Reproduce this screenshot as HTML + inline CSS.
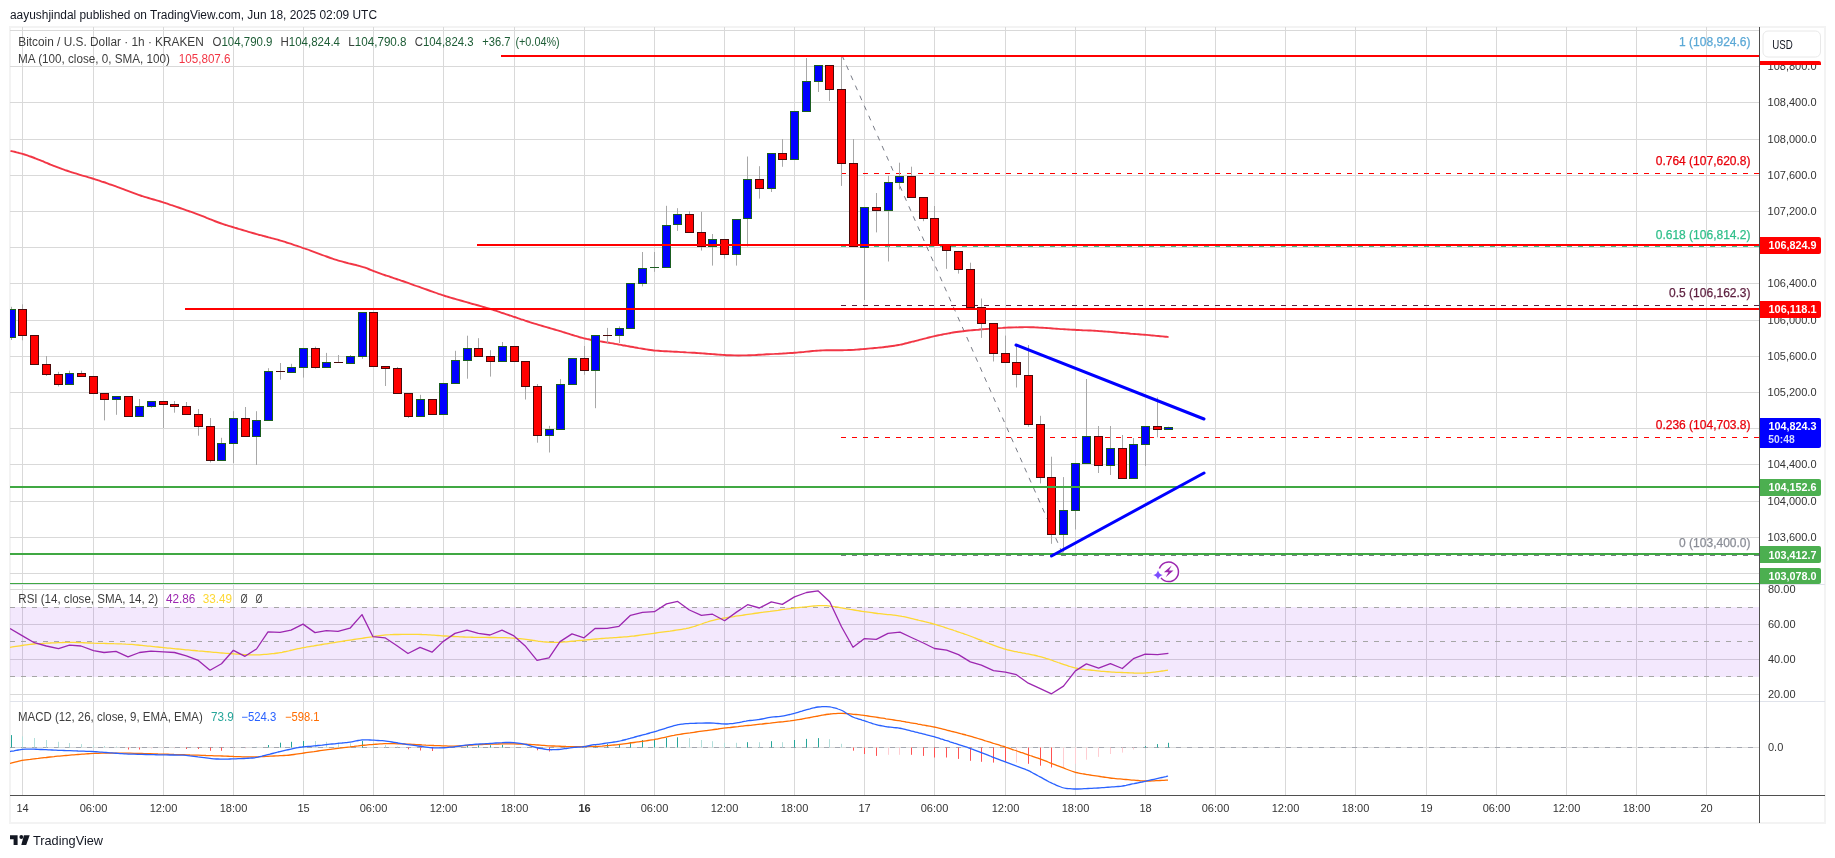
<!DOCTYPE html>
<html><head><meta charset="utf-8"><title>BTCUSD Chart</title>
<style>html,body{margin:0;padding:0;background:#fff;}body{width:1835px;height:858px;overflow:hidden;font-family:"Liberation Sans", sans-serif;}svg{display:block;will-change:transform}</style>
</head><body><svg width="1835" height="858" viewBox="0 0 1835 858" font-family='"Liberation Sans", sans-serif'><rect x="10" y="27" width="1815" height="796" fill="#ffffff" stroke="#f3f3f3" stroke-width="2"/><defs><clipPath id="cm"><rect x="10" y="27" width="1749" height="557"/></clipPath><clipPath id="cr"><rect x="10" y="585" width="1749" height="116"/></clipPath><clipPath id="cd"><rect x="10" y="702" width="1749" height="93"/></clipPath></defs><path d="M22.5 27V795 M93.5 27V795 M163.5 27V795 M233.5 27V795 M303.5 27V795 M373.5 27V795 M443.5 27V795 M514.5 27V795 M584.5 27V795 M654.5 27V795 M724.5 27V795 M794.5 27V795 M864.5 27V795 M934.5 27V795 M1005.5 27V795 M1075.5 27V795 M1145.5 27V795 M1215.5 27V795 M1285.5 27V795 M1355.5 27V795 M1426.5 27V795 M1496.5 27V795 M1566.5 27V795 M1636.5 27V795 M1706.5 27V795 M10 30.5H1759 M10 66.5H1759 M10 102.5H1759 M10 139.5H1759 M10 175.5H1759 M10 211.5H1759 M10 247.5H1759 M10 283.5H1759 M10 320.5H1759 M10 356.5H1759 M10 392.5H1759 M10 428.5H1759 M10 464.5H1759 M10 501.5H1759 M10 537.5H1759 M10 573.5H1759 M10 589.5H1759 M10 624.5H1759 M10 659.5H1759 M10 694.5H1759" stroke="#d9d9d9" stroke-width="1" fill="none"/><path d="M10 584.5H1825 M10 701.5H1825" stroke="#e0e3eb" stroke-width="1"/><g clip-path="url(#cr)"><rect x="10" y="607" width="1749" height="70" fill="#8719eb" fill-opacity="0.1"/><path d="M10 607.5H1759 M10 641.5H1759 M10 676.5H1759" stroke="#a6a6a6" stroke-width="1" stroke-dasharray="5 6" fill="none"/><path d="M10.0 647.3C10.7 647.2 12.7 646.9 14.0 646.7C15.3 646.5 16.7 646.3 18.0 646.1C19.3 645.9 20.7 645.7 22.0 645.5C23.3 645.3 24.7 645.1 26.0 644.9C27.3 644.7 28.7 644.6 30.0 644.4C31.3 644.2 32.7 644.1 34.0 644.0C35.3 643.8 36.7 643.7 38.0 643.6C39.3 643.5 40.7 643.4 42.0 643.4C43.3 643.3 44.7 643.2 46.0 643.2C47.3 643.1 48.7 643.0 50.0 643.0C51.3 642.9 52.7 642.9 54.0 642.8C55.3 642.8 56.7 642.7 58.0 642.6C59.3 642.6 60.7 642.5 62.0 642.5C63.3 642.4 64.7 642.4 66.0 642.4C67.3 642.3 68.7 642.3 70.0 642.3C71.3 642.3 72.7 642.3 74.0 642.4C75.3 642.4 76.7 642.4 78.0 642.5C79.3 642.5 80.7 642.6 82.0 642.7C83.3 642.7 84.7 642.8 86.0 642.8C87.3 642.9 88.7 643.0 90.0 643.0C91.3 643.1 92.7 643.1 94.0 643.2C95.3 643.2 96.7 643.2 98.0 643.3C99.3 643.3 100.7 643.4 102.0 643.4C103.3 643.4 104.7 643.5 106.0 643.5C107.3 643.5 108.7 643.6 110.0 643.6C111.3 643.6 112.7 643.6 114.0 643.7C115.3 643.7 116.7 643.7 118.0 643.8C119.3 643.8 120.7 643.8 122.0 643.9C123.3 643.9 124.7 644.0 126.0 644.1C127.3 644.1 128.7 644.2 130.0 644.3C131.3 644.4 132.7 644.5 134.0 644.6C135.3 644.8 136.7 644.9 138.0 645.0C139.3 645.2 140.7 645.3 142.0 645.4C143.3 645.6 144.7 645.7 146.0 645.8C147.3 646.0 148.7 646.1 150.0 646.2C151.3 646.4 152.7 646.5 154.0 646.6C155.3 646.8 156.7 646.9 158.0 647.0C159.3 647.2 160.7 647.3 162.0 647.4C163.3 647.6 164.7 647.7 166.0 647.8C167.3 648.0 168.7 648.1 170.0 648.2C171.3 648.4 172.7 648.5 174.0 648.6C175.3 648.8 176.7 648.9 178.0 649.0C179.3 649.1 180.7 649.3 182.0 649.4C183.3 649.5 184.7 649.7 186.0 649.8C187.3 649.9 188.7 650.0 190.0 650.1C191.3 650.3 192.7 650.4 194.0 650.5C195.3 650.6 196.7 650.7 198.0 650.9C199.3 651.0 200.7 651.1 202.0 651.2C203.3 651.3 204.7 651.5 206.0 651.6C207.3 651.7 208.7 651.8 210.0 651.9C211.3 652.1 212.7 652.2 214.0 652.3C215.3 652.4 216.7 652.5 218.0 652.6C219.3 652.7 220.7 652.9 222.0 653.0C223.3 653.1 224.7 653.2 226.0 653.3C227.3 653.4 228.7 653.5 230.0 653.6C231.3 653.7 232.7 653.8 234.0 653.9C235.3 654.0 236.7 654.1 238.0 654.2C239.3 654.3 240.7 654.4 242.0 654.4C243.3 654.5 244.7 654.6 246.0 654.7C247.3 654.7 248.7 654.8 250.0 654.8C251.3 654.9 252.7 654.9 254.0 654.9C255.3 654.9 256.7 654.9 258.0 654.8C259.3 654.8 260.7 654.7 262.0 654.6C263.3 654.5 264.7 654.4 266.0 654.3C267.3 654.2 268.7 654.1 270.0 653.9C271.3 653.8 272.7 653.6 274.0 653.5C275.3 653.3 276.7 653.2 278.0 653.0C279.3 652.8 280.7 652.5 282.0 652.3C283.3 652.0 284.7 651.7 286.0 651.5C287.3 651.2 288.7 650.9 290.0 650.5C291.3 650.2 292.7 649.9 294.0 649.6C295.3 649.3 296.7 649.0 298.0 648.7C299.3 648.4 300.7 648.2 302.0 647.9C303.3 647.6 304.7 647.4 306.0 647.2C307.3 646.9 308.7 646.7 310.0 646.5C311.3 646.3 312.7 646.0 314.0 645.8C315.3 645.6 316.7 645.4 318.0 645.2C319.3 645.0 320.7 644.7 322.0 644.5C323.3 644.3 324.7 644.1 326.0 643.9C327.3 643.7 328.7 643.4 330.0 643.2C331.3 643.0 332.7 642.8 334.0 642.6C335.3 642.4 336.7 642.2 338.0 641.9C339.3 641.7 340.7 641.5 342.0 641.3C343.3 641.1 344.7 640.9 346.0 640.7C347.3 640.5 348.7 640.3 350.0 640.1C351.3 639.9 352.7 639.7 354.0 639.5C355.3 639.3 356.7 639.1 358.0 638.9C359.3 638.7 360.7 638.5 362.0 638.3C363.3 638.1 364.7 637.9 366.0 637.7C367.3 637.5 368.7 637.3 370.0 637.1C371.3 636.9 372.7 636.7 374.0 636.5C375.3 636.3 376.7 636.1 378.0 635.9C379.3 635.7 380.7 635.5 382.0 635.3C383.3 635.2 384.7 635.0 386.0 634.9C387.3 634.8 388.7 634.7 390.0 634.7C391.3 634.6 392.7 634.6 394.0 634.5C395.3 634.5 396.7 634.5 398.0 634.5C399.3 634.4 400.7 634.4 402.0 634.4C403.3 634.4 404.7 634.4 406.0 634.4C407.3 634.3 408.7 634.3 410.0 634.3C411.3 634.3 412.7 634.3 414.0 634.3C415.3 634.3 416.7 634.3 418.0 634.4C419.3 634.4 420.7 634.4 422.0 634.5C423.3 634.5 424.7 634.6 426.0 634.7C427.3 634.8 428.7 634.9 430.0 634.9C431.3 635.0 432.7 635.1 434.0 635.2C435.3 635.3 436.7 635.4 438.0 635.5C439.3 635.6 440.7 635.7 442.0 635.8C443.3 635.9 444.7 636.0 446.0 636.0C447.3 636.1 448.7 636.2 450.0 636.3C451.3 636.3 452.7 636.4 454.0 636.5C455.3 636.6 456.7 636.6 458.0 636.7C459.3 636.8 460.7 636.8 462.0 636.9C463.3 637.0 464.7 637.0 466.0 637.1C467.3 637.1 468.7 637.2 470.0 637.2C471.3 637.2 472.7 637.3 474.0 637.3C475.3 637.3 476.7 637.3 478.0 637.3C479.3 637.4 480.7 637.4 482.0 637.4C483.3 637.4 484.7 637.4 486.0 637.4C487.3 637.5 488.7 637.5 490.0 637.5C491.3 637.5 492.7 637.5 494.0 637.5C495.3 637.6 496.7 637.6 498.0 637.6C499.3 637.6 500.7 637.6 502.0 637.7C503.3 637.7 504.7 637.7 506.0 637.7C507.3 637.8 508.7 637.8 510.0 637.9C511.3 637.9 512.7 638.0 514.0 638.1C515.3 638.2 516.7 638.3 518.0 638.5C519.3 638.6 520.7 638.8 522.0 638.9C523.3 639.1 524.7 639.3 526.0 639.4C527.3 639.6 528.7 639.8 530.0 640.0C531.3 640.2 532.7 640.3 534.0 640.5C535.3 640.7 536.7 640.9 538.0 641.1C539.3 641.2 540.7 641.4 542.0 641.6C543.3 641.7 544.7 641.9 546.0 642.0C547.3 642.1 548.7 642.2 550.0 642.3C551.3 642.4 552.7 642.4 554.0 642.4C555.3 642.4 556.7 642.4 558.0 642.3C559.3 642.3 560.7 642.2 562.0 642.1C563.3 642.0 564.7 641.9 566.0 641.8C567.3 641.7 568.7 641.6 570.0 641.4C571.3 641.3 572.7 641.2 574.0 641.1C575.3 640.9 576.7 640.8 578.0 640.7C579.3 640.6 580.7 640.4 582.0 640.3C583.3 640.2 584.7 640.1 586.0 639.9C587.3 639.8 588.7 639.7 590.0 639.6C591.3 639.4 592.7 639.3 594.0 639.2C595.3 639.1 596.7 638.9 598.0 638.8C599.3 638.7 600.7 638.6 602.0 638.5C603.3 638.4 604.7 638.3 606.0 638.2C607.3 638.1 608.7 638.0 610.0 637.9C611.3 637.8 612.7 637.8 614.0 637.7C615.3 637.6 616.7 637.5 618.0 637.4C619.3 637.3 620.7 637.2 622.0 637.1C623.3 637.0 624.7 636.9 626.0 636.8C627.3 636.7 628.7 636.6 630.0 636.4C631.3 636.3 632.7 636.1 634.0 636.0C635.3 635.8 636.7 635.7 638.0 635.5C639.3 635.3 640.7 635.1 642.0 634.9C643.3 634.8 644.7 634.6 646.0 634.4C647.3 634.2 648.7 634.0 650.0 633.8C651.3 633.7 652.7 633.5 654.0 633.3C655.3 633.1 656.7 632.9 658.0 632.7C659.3 632.6 660.7 632.4 662.0 632.2C663.3 632.0 664.7 631.8 666.0 631.6C667.3 631.4 668.7 631.2 670.0 631.1C671.3 630.9 672.7 630.7 674.0 630.5C675.3 630.3 676.7 630.1 678.0 629.9C679.3 629.7 680.7 629.5 682.0 629.3C683.3 629.1 684.7 628.8 686.0 628.6C687.3 628.3 688.7 628.0 690.0 627.6C691.3 627.3 692.7 626.9 694.0 626.5C695.3 626.1 696.7 625.6 698.0 625.2C699.3 624.7 700.7 624.2 702.0 623.8C703.3 623.3 704.7 622.8 706.0 622.4C707.3 622.0 708.7 621.5 710.0 621.1C711.3 620.8 712.7 620.4 714.0 620.1C715.3 619.8 716.7 619.5 718.0 619.2C719.3 618.9 720.7 618.7 722.0 618.5C723.3 618.2 724.7 618.0 726.0 617.8C727.3 617.6 728.7 617.4 730.0 617.2C731.3 617.0 732.7 616.8 734.0 616.6C735.3 616.3 736.7 616.1 738.0 615.9C739.3 615.7 740.7 615.5 742.0 615.3C743.3 615.1 744.7 614.9 746.0 614.7C747.3 614.5 748.7 614.3 750.0 614.1C751.3 613.9 752.7 613.7 754.0 613.5C755.3 613.4 756.7 613.2 758.0 613.0C759.3 612.8 760.7 612.6 762.0 612.4C763.3 612.3 764.7 612.1 766.0 611.9C767.3 611.7 768.7 611.5 770.0 611.4C771.3 611.2 772.7 611.0 774.0 610.8C775.3 610.6 776.7 610.4 778.0 610.3C779.3 610.1 780.7 609.9 782.0 609.7C783.3 609.5 784.7 609.3 786.0 609.2C787.3 609.0 788.7 608.8 790.0 608.6C791.3 608.5 792.7 608.3 794.0 608.1C795.3 608.0 796.7 607.8 798.0 607.6C799.3 607.5 800.7 607.3 802.0 607.2C803.3 607.0 804.7 606.9 806.0 606.8C807.3 606.6 808.7 606.5 810.0 606.3C811.3 606.2 812.7 606.1 814.0 606.0C815.3 605.9 816.7 605.8 818.0 605.7C819.3 605.7 820.7 605.6 822.0 605.6C823.3 605.6 824.7 605.7 826.0 605.7C827.3 605.8 828.7 605.9 830.0 606.1C831.3 606.2 832.7 606.4 834.0 606.6C835.3 606.8 836.7 607.0 838.0 607.2C839.3 607.4 840.7 607.7 842.0 607.9C843.3 608.2 844.7 608.4 846.0 608.7C847.3 608.9 848.7 609.1 850.0 609.4C851.3 609.6 852.7 609.8 854.0 610.0C855.3 610.3 856.7 610.5 858.0 610.7C859.3 610.9 860.7 611.1 862.0 611.3C863.3 611.5 864.7 611.7 866.0 611.9C867.3 612.1 868.7 612.3 870.0 612.4C871.3 612.6 872.7 612.8 874.0 613.0C875.3 613.2 876.7 613.3 878.0 613.5C879.3 613.6 880.7 613.8 882.0 613.9C883.3 614.1 884.7 614.2 886.0 614.3C887.3 614.5 888.7 614.6 890.0 614.7C891.3 614.9 892.7 615.0 894.0 615.2C895.3 615.4 896.7 615.5 898.0 615.7C899.3 615.9 900.7 616.1 902.0 616.4C903.3 616.6 904.7 616.9 906.0 617.2C907.3 617.5 908.7 617.8 910.0 618.1C911.3 618.4 912.7 618.8 914.0 619.1C915.3 619.4 916.7 619.7 918.0 620.0C919.3 620.4 920.7 620.7 922.0 621.0C923.3 621.3 924.7 621.6 926.0 622.0C927.3 622.3 928.7 622.6 930.0 623.0C931.3 623.3 932.7 623.7 934.0 624.1C935.3 624.5 936.7 624.9 938.0 625.3C939.3 625.7 940.7 626.1 942.0 626.5C943.3 626.9 944.7 627.4 946.0 627.8C947.3 628.3 948.7 628.7 950.0 629.2C951.3 629.6 952.7 630.0 954.0 630.5C955.3 630.9 956.7 631.4 958.0 631.8C959.3 632.3 960.7 632.7 962.0 633.2C963.3 633.6 964.7 634.1 966.0 634.5C967.3 635.0 968.7 635.5 970.0 636.0C971.3 636.5 972.7 637.0 974.0 637.5C975.3 638.0 976.7 638.5 978.0 639.1C979.3 639.6 980.7 640.1 982.0 640.7C983.3 641.2 984.7 641.7 986.0 642.3C987.3 642.8 988.7 643.3 990.0 643.8C991.3 644.4 992.7 644.9 994.0 645.4C995.3 645.9 996.7 646.4 998.0 646.9C999.3 647.4 1000.7 647.8 1002.0 648.2C1003.3 648.7 1004.7 649.1 1006.0 649.4C1007.3 649.8 1008.7 650.1 1010.0 650.4C1011.3 650.7 1012.7 651.0 1014.0 651.3C1015.3 651.6 1016.7 651.8 1018.0 652.1C1019.3 652.3 1020.7 652.6 1022.0 652.8C1023.3 653.1 1024.7 653.3 1026.0 653.6C1027.3 653.8 1028.7 654.1 1030.0 654.3C1031.3 654.6 1032.7 654.9 1034.0 655.1C1035.3 655.4 1036.7 655.7 1038.0 656.1C1039.3 656.4 1040.7 656.8 1042.0 657.1C1043.3 657.5 1044.7 657.9 1046.0 658.4C1047.3 658.8 1048.7 659.2 1050.0 659.7C1051.3 660.1 1052.7 660.6 1054.0 661.1C1055.3 661.5 1056.7 662.0 1058.0 662.5C1059.3 662.9 1060.7 663.4 1062.0 663.8C1063.3 664.3 1064.7 664.8 1066.0 665.2C1067.3 665.6 1068.7 666.1 1070.0 666.5C1071.3 666.9 1072.7 667.3 1074.0 667.6C1075.3 667.9 1076.7 668.2 1078.0 668.5C1079.3 668.7 1080.7 668.9 1082.0 669.1C1083.3 669.3 1084.7 669.4 1086.0 669.6C1087.3 669.7 1088.7 669.9 1090.0 670.0C1091.3 670.2 1092.7 670.3 1094.0 670.4C1095.3 670.6 1096.7 670.7 1098.0 670.8C1099.3 671.0 1100.7 671.1 1102.0 671.3C1103.3 671.4 1104.7 671.5 1106.0 671.6C1107.3 671.7 1108.7 671.8 1110.0 671.9C1111.3 672.0 1112.7 672.1 1114.0 672.2C1115.3 672.3 1116.7 672.3 1118.0 672.4C1119.3 672.4 1120.7 672.5 1122.0 672.5C1123.3 672.6 1124.7 672.6 1126.0 672.7C1127.3 672.7 1128.7 672.8 1130.0 672.8C1131.3 672.9 1132.7 672.9 1134.0 673.0C1135.3 673.0 1136.7 673.1 1138.0 673.1C1139.3 673.1 1140.7 673.1 1142.0 673.1C1143.3 673.1 1144.7 673.0 1146.0 672.9C1147.3 672.8 1148.7 672.7 1150.0 672.6C1151.3 672.5 1152.7 672.3 1154.0 672.1C1155.3 671.9 1156.7 671.8 1158.0 671.6C1159.3 671.4 1160.7 671.2 1162.0 671.0C1163.3 670.8 1165.0 670.6 1166.0 670.4C1167.0 670.3 1167.7 670.2 1168.0 670.2" fill="none" stroke="#fdd835" stroke-width="1.3" stroke-linejoin="round"/><polyline points="10.0,628.5 22.5,635.9 34.3,642.7 46.4,646.0 58.5,648.6 69.5,645.2 81.0,646.0 93.5,650.6 104.0,652.5 116.0,651.4 128.0,656.8 139.5,652.5 151.0,651.1 163.5,651.9 174.5,652.5 186.4,655.8 198.3,660.4 210.0,670.2 221.5,663.7 233.4,650.3 245.0,656.3 256.5,649.0 268.0,631.8 280.0,632.3 291.0,630.1 303.0,624.1 315.0,632.6 326.4,630.6 338.0,631.3 350.0,628.2 362.0,614.6 373.0,636.7 385.0,637.8 397.0,645.7 408.0,653.5 420.0,647.3 432.0,652.2 443.0,641.6 455.0,633.4 467.0,630.1 478.4,633.4 490.0,635.0 502.0,630.1 514.0,635.9 525.0,645.7 537.0,660.4 549.0,657.9 560.0,641.6 572.0,633.9 584.0,637.8 595.0,628.5 607.0,628.4 619.0,626.3 630.5,615.3 642.5,612.4 654.4,611.7 666.5,603.9 677.7,601.4 689.4,610.0 701.4,615.3 712.5,614.2 724.6,620.7 736.5,612.1 747.6,604.7 759.4,608.0 771.3,601.8 782.3,604.4 794.5,596.9 806.5,592.5 818.0,590.8 829.7,601.8 841.5,626.8 853.0,647.2 864.5,638.6 876.3,639.4 888.0,633.3 900.0,632.2 911.4,637.5 923.4,643.0 934.5,648.5 946.6,650.2 958.5,654.6 970.3,661.9 981.4,665.2 993.5,670.6 1005.4,672.1 1016.4,674.7 1028.3,683.2 1040.3,688.6 1051.5,693.8 1063.5,686.1 1075.4,670.9 1086.4,663.9 1098.6,668.1 1110.4,663.6 1122.3,668.5 1133.4,658.7 1145.2,654.2 1157.5,654.6 1168.4,653.4" fill="none" stroke="#9c27b0" stroke-width="1.3" stroke-linejoin="round"/></g><g clip-path="url(#cd)"><path d="M10 747.5H1759" stroke="#dcdcdc" stroke-width="1" fill="none"/><path d="M10 747.5H1759" stroke="#a3a6af" stroke-width="1" stroke-dasharray="5 6" fill="none"/><path d="M11.5 747.5V735.1 M268.5 747.5V745.0 M280.5 747.5V742.7 M291.5 747.5V741.8 M303.5 747.5V741.0 M362.5 747.5V740.9 M467.5 747.5V745.5 M478.5 747.5V745.3 M490.5 747.5V745.3 M502.5 747.5V744.8 M595.5 747.5V745.5 M607.5 747.5V743.8 M619.5 747.5V744.1 M630.5 747.5V742.2 M642.5 747.5V740.0 M654.5 747.5V739.2 M666.5 747.5V737.9 M677.5 747.5V737.3 M747.5 747.5V742.2 M771.5 747.5V741.2 M794.5 747.5V740.0 M806.5 747.5V738.9 M818.5 747.5V738.1 M1145.5 747.5V746.1 M1157.5 747.5V744.1 M1168.5 747.5V742.8" stroke="#26a69a" stroke-width="1" fill="none"/><path d="M22.5 747.5V736.4 M34.5 747.5V738.0 M46.5 747.5V740.0 M58.5 747.5V741.8 M69.5 747.5V743.0 M81.5 747.5V744.1 M93.5 747.5V745.4 M104.5 747.5V746.0 M116.5 747.5V746.5 M256.5 747.5V746.8 M315.5 747.5V741.0 M326.5 747.5V741.8 M338.5 747.5V742.5 M350.5 747.5V743.3 M373.5 747.5V743.0 M385.5 747.5V745.0 M397.5 747.5V746.5 M514.5 747.5V746.5 M525.5 747.5V747.0 M572.5 747.5V746.8 M584.5 747.5V746.8 M689.5 747.5V738.1 M701.5 747.5V740.0 M712.5 747.5V741.2 M724.5 747.5V742.8 M736.5 747.5V742.8 M759.5 747.5V742.2 M782.5 747.5V742.2 M829.5 747.5V739.2 M841.5 747.5V743.8" stroke="#b2dfdb" stroke-width="1" fill="none"/><path d="M128.5 747.5V749.5 M139.5 747.5V749.5 M186.5 747.5V749.0 M198.5 747.5V749.0 M210.5 747.5V750.8 M221.5 747.5V750.8 M408.5 747.5V749.3 M420.5 747.5V750.5 M432.5 747.5V751.0 M537.5 747.5V750.3 M549.5 747.5V751.5 M853.5 747.5V750.7 M864.5 747.5V754.0 M876.5 747.5V755.9 M911.5 747.5V754.8 M923.5 747.5V755.9 M934.5 747.5V757.5 M946.5 747.5V757.5 M958.5 747.5V758.9 M970.5 747.5V760.8 M981.5 747.5V761.8 M993.5 747.5V762.6 M1005.5 747.5V762.1 M1028.5 747.5V763.8 M1040.5 747.5V765.7 M1051.5 747.5V767.5" stroke="#ff5252" stroke-width="1" fill="none"/><path d="M151.5 747.5V748.5 M163.5 747.5V748.3 M174.5 747.5V748.3 M233.5 747.5V748.5 M245.5 747.5V748.3 M443.5 747.5V748.5 M455.5 747.5V748.2 M560.5 747.5V748.5 M888.5 747.5V754.8 M899.5 747.5V754.8 M1016.5 747.5V762.6 M1063.5 747.5V767.5 M1075.5 747.5V763.8 M1086.5 747.5V759.7 M1098.5 747.5V756.9 M1110.5 747.5V754.0 M1122.5 747.5V752.6 M1133.5 747.5V749.5" stroke="#ffcdd2" stroke-width="1" fill="none"/><path d="M10.0 763.4C10.7 763.2 12.7 762.7 14.0 762.3C15.3 762.0 16.7 761.6 18.0 761.3C19.3 761.0 20.7 760.7 22.0 760.4C23.3 760.2 24.7 760.0 26.0 759.8C27.3 759.6 28.7 759.4 30.0 759.3C31.3 759.1 32.7 759.0 34.0 758.8C35.3 758.7 36.7 758.5 38.0 758.4C39.3 758.2 40.7 758.1 42.0 757.9C43.3 757.8 44.7 757.6 46.0 757.5C47.3 757.3 48.7 757.2 50.0 757.0C51.3 756.9 52.7 756.7 54.0 756.6C55.3 756.4 56.7 756.3 58.0 756.2C59.3 756.0 60.7 755.9 62.0 755.8C63.3 755.7 64.7 755.6 66.0 755.5C67.3 755.4 68.7 755.2 70.0 755.1C71.3 755.0 72.7 754.9 74.0 754.8C75.3 754.7 76.7 754.6 78.0 754.5C79.3 754.4 80.7 754.3 82.0 754.2C83.3 754.1 84.7 754.0 86.0 753.9C87.3 753.8 88.7 753.7 90.0 753.6C91.3 753.5 92.7 753.4 94.0 753.4C95.3 753.3 96.7 753.3 98.0 753.3C99.3 753.3 100.7 753.3 102.0 753.2C103.3 753.2 104.7 753.2 106.0 753.2C107.3 753.2 108.7 753.2 110.0 753.2C111.3 753.2 112.7 753.2 114.0 753.2C115.3 753.2 116.7 753.2 118.0 753.2C119.3 753.2 120.7 753.1 122.0 753.1C123.3 753.1 124.7 753.1 126.0 753.1C127.3 753.1 128.7 753.2 130.0 753.2C131.3 753.2 132.7 753.2 134.0 753.3C135.3 753.3 136.7 753.3 138.0 753.4C139.3 753.4 140.7 753.5 142.0 753.5C143.3 753.5 144.7 753.6 146.0 753.6C147.3 753.7 148.7 753.7 150.0 753.7C151.3 753.8 152.7 753.8 154.0 753.8C155.3 753.9 156.7 753.9 158.0 754.0C159.3 754.0 160.7 754.0 162.0 754.1C163.3 754.1 164.7 754.2 166.0 754.2C167.3 754.2 168.7 754.3 170.0 754.3C171.3 754.4 172.7 754.4 174.0 754.5C175.3 754.5 176.7 754.5 178.0 754.6C179.3 754.6 180.7 754.7 182.0 754.7C183.3 754.7 184.7 754.8 186.0 754.8C187.3 754.9 188.7 754.9 190.0 755.0C191.3 755.0 192.7 755.0 194.0 755.1C195.3 755.1 196.7 755.2 198.0 755.2C199.3 755.3 200.7 755.3 202.0 755.3C203.3 755.4 204.7 755.4 206.0 755.5C207.3 755.5 208.7 755.6 210.0 755.6C211.3 755.7 212.7 755.7 214.0 755.8C215.3 755.8 216.7 755.8 218.0 755.9C219.3 755.9 220.7 756.0 222.0 756.0C223.3 756.1 224.7 756.1 226.0 756.2C227.3 756.2 228.7 756.3 230.0 756.3C231.3 756.4 232.7 756.4 234.0 756.5C235.3 756.5 236.7 756.6 238.0 756.6C239.3 756.7 240.7 756.7 242.0 756.8C243.3 756.8 244.7 756.8 246.0 756.9C247.3 756.9 248.7 756.9 250.0 756.9C251.3 756.9 252.7 756.9 254.0 756.9C255.3 756.8 256.7 756.8 258.0 756.8C259.3 756.7 260.7 756.7 262.0 756.6C263.3 756.5 264.7 756.5 266.0 756.4C267.3 756.3 268.7 756.3 270.0 756.2C271.3 756.1 272.7 756.1 274.0 756.0C275.3 755.9 276.7 755.9 278.0 755.8C279.3 755.7 280.7 755.7 282.0 755.6C283.3 755.5 284.7 755.5 286.0 755.4C287.3 755.3 288.7 755.2 290.0 755.0C291.3 754.9 292.7 754.7 294.0 754.5C295.3 754.3 296.7 754.1 298.0 753.9C299.3 753.7 300.7 753.5 302.0 753.3C303.3 753.1 304.7 752.9 306.0 752.7C307.3 752.5 308.7 752.3 310.0 752.1C311.3 751.9 312.7 751.7 314.0 751.6C315.3 751.4 316.7 751.2 318.0 751.0C319.3 750.8 320.7 750.6 322.0 750.4C323.3 750.2 324.7 750.0 326.0 749.8C327.3 749.7 328.7 749.5 330.0 749.3C331.3 749.1 332.7 749.0 334.0 748.8C335.3 748.7 336.7 748.5 338.0 748.3C339.3 748.2 340.7 748.0 342.0 747.8C343.3 747.7 344.7 747.5 346.0 747.3C347.3 747.2 348.7 747.0 350.0 746.9C351.3 746.7 352.7 746.5 354.0 746.4C355.3 746.2 356.7 746.0 358.0 745.9C359.3 745.7 360.7 745.6 362.0 745.4C363.3 745.3 364.7 745.2 366.0 745.1C367.3 744.9 368.7 744.8 370.0 744.7C371.3 744.6 372.7 744.5 374.0 744.4C375.3 744.3 376.7 744.2 378.0 744.1C379.3 744.0 380.7 743.9 382.0 743.8C383.3 743.7 384.7 743.7 386.0 743.6C387.3 743.6 388.7 743.6 390.0 743.7C391.3 743.7 392.7 743.7 394.0 743.7C395.3 743.8 396.7 743.8 398.0 743.8C399.3 743.9 400.7 743.9 402.0 743.9C403.3 744.0 404.7 744.0 406.0 744.1C407.3 744.1 408.7 744.2 410.0 744.2C411.3 744.3 412.7 744.4 414.0 744.4C415.3 744.5 416.7 744.6 418.0 744.6C419.3 744.7 420.7 744.8 422.0 744.9C423.3 744.9 424.7 745.0 426.0 745.1C427.3 745.1 428.7 745.2 430.0 745.3C431.3 745.3 432.7 745.4 434.0 745.5C435.3 745.5 436.7 745.6 438.0 745.6C439.3 745.7 440.7 745.7 442.0 745.8C443.3 745.8 444.7 745.9 446.0 745.9C447.3 746.0 448.7 746.1 450.0 746.1C451.3 746.1 452.7 746.1 454.0 746.1C455.3 746.1 456.7 746.1 458.0 746.0C459.3 746.0 460.7 745.9 462.0 745.8C463.3 745.7 464.7 745.6 466.0 745.5C467.3 745.4 468.7 745.3 470.0 745.2C471.3 745.1 472.7 745.0 474.0 744.9C475.3 744.8 476.7 744.7 478.0 744.7C479.3 744.6 480.7 744.5 482.0 744.5C483.3 744.4 484.7 744.4 486.0 744.3C487.3 744.3 488.7 744.3 490.0 744.2C491.3 744.2 492.7 744.1 494.0 744.1C495.3 744.0 496.7 744.0 498.0 744.0C499.3 743.9 500.7 743.9 502.0 743.9C503.3 743.9 504.7 743.9 506.0 743.9C507.3 743.9 508.7 743.9 510.0 743.9C511.3 743.9 512.7 743.9 514.0 743.9C515.3 744.0 516.7 744.0 518.0 744.0C519.3 744.0 520.7 744.0 522.0 744.1C523.3 744.1 524.7 744.2 526.0 744.2C527.3 744.3 528.7 744.4 530.0 744.4C531.3 744.5 532.7 744.6 534.0 744.7C535.3 744.8 536.7 744.9 538.0 745.0C539.3 745.1 540.7 745.2 542.0 745.3C543.3 745.4 544.7 745.5 546.0 745.6C547.3 745.7 548.7 745.8 550.0 745.8C551.3 745.9 552.7 746.0 554.0 746.0C555.3 746.1 556.7 746.1 558.0 746.2C559.3 746.2 560.7 746.3 562.0 746.3C563.3 746.4 564.7 746.4 566.0 746.5C567.3 746.5 568.7 746.6 570.0 746.6C571.3 746.6 572.7 746.6 574.0 746.6C575.3 746.6 576.7 746.6 578.0 746.6C579.3 746.6 580.7 746.6 582.0 746.6C583.3 746.5 584.7 746.5 586.0 746.5C587.3 746.5 588.7 746.5 590.0 746.4C591.3 746.4 592.7 746.4 594.0 746.4C595.3 746.3 596.7 746.3 598.0 746.3C599.3 746.2 600.7 746.1 602.0 746.1C603.3 746.0 604.7 745.9 606.0 745.7C607.3 745.6 608.7 745.5 610.0 745.4C611.3 745.3 612.7 745.1 614.0 745.0C615.3 744.9 616.7 744.7 618.0 744.6C619.3 744.5 620.7 744.3 622.0 744.1C623.3 744.0 624.7 743.8 626.0 743.6C627.3 743.4 628.7 743.2 630.0 743.0C631.3 742.9 632.7 742.7 634.0 742.5C635.3 742.3 636.7 742.1 638.0 741.9C639.3 741.7 640.7 741.6 642.0 741.4C643.3 741.2 644.7 741.0 646.0 740.8C647.3 740.6 648.7 740.4 650.0 740.2C651.3 740.0 652.7 739.8 654.0 739.6C655.3 739.3 656.7 739.1 658.0 738.8C659.3 738.5 660.7 738.2 662.0 737.9C663.3 737.7 664.7 737.4 666.0 737.1C667.3 736.8 668.7 736.5 670.0 736.2C671.3 735.9 672.7 735.6 674.0 735.4C675.3 735.1 676.7 734.8 678.0 734.6C679.3 734.4 680.7 734.2 682.0 734.0C683.3 733.8 684.7 733.6 686.0 733.4C687.3 733.2 688.7 733.0 690.0 732.9C691.3 732.7 692.7 732.5 694.0 732.3C695.3 732.1 696.7 731.9 698.0 731.7C699.3 731.6 700.7 731.4 702.0 731.2C703.3 731.0 704.7 730.8 706.0 730.6C707.3 730.4 708.7 730.3 710.0 730.1C711.3 729.9 712.7 729.7 714.0 729.5C715.3 729.3 716.7 729.1 718.0 729.0C719.3 728.8 720.7 728.6 722.0 728.4C723.3 728.3 724.7 728.1 726.0 727.9C727.3 727.8 728.7 727.6 730.0 727.5C731.3 727.3 732.7 727.2 734.0 727.0C735.3 726.9 736.7 726.7 738.0 726.6C739.3 726.4 740.7 726.3 742.0 726.2C743.3 726.0 744.7 725.9 746.0 725.7C747.3 725.6 748.7 725.4 750.0 725.3C751.3 725.1 752.7 725.0 754.0 724.8C755.3 724.7 756.7 724.5 758.0 724.4C759.3 724.3 760.7 724.1 762.0 724.0C763.3 723.8 764.7 723.7 766.0 723.5C767.3 723.4 768.7 723.2 770.0 723.1C771.3 722.9 772.7 722.8 774.0 722.6C775.3 722.5 776.7 722.4 778.0 722.2C779.3 722.1 780.7 721.9 782.0 721.8C783.3 721.6 784.7 721.5 786.0 721.3C787.3 721.2 788.7 721.0 790.0 720.9C791.3 720.7 792.7 720.5 794.0 720.3C795.3 720.2 796.7 719.9 798.0 719.7C799.3 719.5 800.7 719.2 802.0 719.0C803.3 718.7 804.7 718.5 806.0 718.2C807.3 718.0 808.7 717.7 810.0 717.5C811.3 717.2 812.7 717.0 814.0 716.7C815.3 716.5 816.7 716.2 818.0 716.0C819.3 715.7 820.7 715.5 822.0 715.2C823.3 715.0 824.7 714.7 826.0 714.5C827.3 714.3 828.7 714.1 830.0 714.0C831.3 713.8 832.7 713.7 834.0 713.6C835.3 713.6 836.7 713.5 838.0 713.4C839.3 713.4 840.7 713.3 842.0 713.3C843.3 713.3 844.7 713.4 846.0 713.5C847.3 713.6 848.7 713.7 850.0 713.8C851.3 714.0 852.7 714.1 854.0 714.3C855.3 714.4 856.7 714.6 858.0 714.7C859.3 714.9 860.7 715.0 862.0 715.2C863.3 715.4 864.7 715.5 866.0 715.7C867.3 715.9 868.7 716.1 870.0 716.3C871.3 716.5 872.7 716.7 874.0 716.9C875.3 717.1 876.7 717.3 878.0 717.5C879.3 717.7 880.7 717.9 882.0 718.1C883.3 718.3 884.7 718.5 886.0 718.8C887.3 719.0 888.7 719.2 890.0 719.4C891.3 719.6 892.7 719.8 894.0 720.0C895.3 720.2 896.7 720.4 898.0 720.6C899.3 720.8 900.7 721.0 902.0 721.3C903.3 721.5 904.7 721.7 906.0 722.0C907.3 722.2 908.7 722.4 910.0 722.7C911.3 722.9 912.7 723.1 914.0 723.4C915.3 723.6 916.7 723.8 918.0 724.1C919.3 724.3 920.7 724.6 922.0 724.8C923.3 725.0 924.7 725.3 926.0 725.5C927.3 725.7 928.7 726.0 930.0 726.2C931.3 726.5 932.7 726.7 934.0 727.0C935.3 727.3 936.7 727.6 938.0 727.9C939.3 728.2 940.7 728.6 942.0 728.9C943.3 729.2 944.7 729.6 946.0 729.9C947.3 730.3 948.7 730.6 950.0 730.9C951.3 731.3 952.7 731.6 954.0 731.9C955.3 732.3 956.7 732.6 958.0 733.0C959.3 733.3 960.7 733.6 962.0 734.0C963.3 734.3 964.7 734.7 966.0 735.0C967.3 735.4 968.7 735.7 970.0 736.1C971.3 736.5 972.7 736.9 974.0 737.3C975.3 737.7 976.7 738.1 978.0 738.5C979.3 738.9 980.7 739.3 982.0 739.7C983.3 740.2 984.7 740.6 986.0 741.0C987.3 741.4 988.7 741.8 990.0 742.2C991.3 742.7 992.7 743.1 994.0 743.5C995.3 743.9 996.7 744.3 998.0 744.7C999.3 745.1 1000.7 745.6 1002.0 746.0C1003.3 746.4 1004.7 746.8 1006.0 747.3C1007.3 747.7 1008.7 748.2 1010.0 748.6C1011.3 749.1 1012.7 749.5 1014.0 750.0C1015.3 750.4 1016.7 750.9 1018.0 751.4C1019.3 751.8 1020.7 752.3 1022.0 752.7C1023.3 753.2 1024.7 753.6 1026.0 754.1C1027.3 754.6 1028.7 755.0 1030.0 755.5C1031.3 755.9 1032.7 756.4 1034.0 756.8C1035.3 757.3 1036.7 757.8 1038.0 758.2C1039.3 758.7 1040.7 759.2 1042.0 759.7C1043.3 760.2 1044.7 760.7 1046.0 761.2C1047.3 761.7 1048.7 762.3 1050.0 762.8C1051.3 763.3 1052.7 763.8 1054.0 764.3C1055.3 764.8 1056.7 765.4 1058.0 765.9C1059.3 766.4 1060.7 766.9 1062.0 767.4C1063.3 767.9 1064.7 768.5 1066.0 769.0C1067.3 769.5 1068.7 770.0 1070.0 770.5C1071.3 771.0 1072.7 771.5 1074.0 771.9C1075.3 772.3 1076.7 772.6 1078.0 772.9C1079.3 773.2 1080.7 773.4 1082.0 773.7C1083.3 773.9 1084.7 774.1 1086.0 774.3C1087.3 774.5 1088.7 774.8 1090.0 775.0C1091.3 775.2 1092.7 775.4 1094.0 775.6C1095.3 775.8 1096.7 776.0 1098.0 776.2C1099.3 776.4 1100.7 776.6 1102.0 776.8C1103.3 777.0 1104.7 777.3 1106.0 777.4C1107.3 777.6 1108.7 777.8 1110.0 778.0C1111.3 778.2 1112.7 778.3 1114.0 778.4C1115.3 778.6 1116.7 778.7 1118.0 778.8C1119.3 778.9 1120.7 779.0 1122.0 779.1C1123.3 779.3 1124.7 779.4 1126.0 779.5C1127.3 779.6 1128.7 779.7 1130.0 779.8C1131.3 780.0 1132.7 780.1 1134.0 780.2C1135.3 780.3 1136.7 780.4 1138.0 780.5C1139.3 780.6 1140.7 780.8 1142.0 780.8C1143.3 780.9 1144.7 781.0 1146.0 781.0C1147.3 781.0 1148.7 781.0 1150.0 781.0C1151.3 780.9 1152.7 780.9 1154.0 780.8C1155.3 780.7 1156.7 780.7 1158.0 780.6C1159.3 780.5 1160.7 780.5 1162.0 780.4C1163.3 780.3 1165.0 780.3 1166.0 780.2C1167.0 780.2 1167.7 780.1 1168.0 780.1" fill="none" stroke="#ff6d00" stroke-width="1.3" stroke-linejoin="round"/><path d="M10.0 751.5C10.7 751.4 12.7 751.0 14.0 750.8C15.3 750.5 16.7 750.3 18.0 750.0C19.3 749.8 20.7 749.5 22.0 749.4C23.3 749.3 24.7 749.2 26.0 749.2C27.3 749.2 28.7 749.2 30.0 749.2C31.3 749.2 32.7 749.2 34.0 749.2C35.3 749.2 36.7 749.3 38.0 749.3C39.3 749.4 40.7 749.5 42.0 749.5C43.3 749.6 44.7 749.7 46.0 749.7C47.3 749.8 48.7 749.9 50.0 749.9C51.3 750.0 52.7 750.0 54.0 750.1C55.3 750.2 56.7 750.2 58.0 750.3C59.3 750.3 60.7 750.4 62.0 750.4C63.3 750.5 64.7 750.5 66.0 750.6C67.3 750.6 68.7 750.7 70.0 750.7C71.3 750.8 72.7 750.8 74.0 750.8C75.3 750.9 76.7 750.9 78.0 751.0C79.3 751.0 80.7 751.1 82.0 751.1C83.3 751.2 84.7 751.2 86.0 751.3C87.3 751.3 88.7 751.3 90.0 751.4C91.3 751.5 92.7 751.5 94.0 751.6C95.3 751.7 96.7 751.8 98.0 751.9C99.3 752.0 100.7 752.1 102.0 752.2C103.3 752.3 104.7 752.4 106.0 752.5C107.3 752.6 108.7 752.7 110.0 752.8C111.3 752.9 112.7 753.0 114.0 753.1C115.3 753.2 116.7 753.3 118.0 753.4C119.3 753.5 120.7 753.6 122.0 753.7C123.3 753.8 124.7 753.9 126.0 753.9C127.3 754.0 128.7 754.1 130.0 754.1C131.3 754.2 132.7 754.2 134.0 754.2C135.3 754.3 136.7 754.3 138.0 754.3C139.3 754.4 140.7 754.4 142.0 754.4C143.3 754.5 144.7 754.5 146.0 754.5C147.3 754.5 148.7 754.6 150.0 754.6C151.3 754.6 152.7 754.7 154.0 754.7C155.3 754.7 156.7 754.8 158.0 754.8C159.3 754.8 160.7 754.8 162.0 754.9C163.3 754.9 164.7 754.9 166.0 754.9C167.3 755.0 168.7 755.0 170.0 755.0C171.3 755.0 172.7 755.0 174.0 755.0C175.3 755.1 176.7 755.1 178.0 755.1C179.3 755.1 180.7 755.1 182.0 755.1C183.3 755.2 184.7 755.2 186.0 755.3C187.3 755.4 188.7 755.6 190.0 755.8C191.3 755.9 192.7 756.1 194.0 756.3C195.3 756.5 196.7 756.7 198.0 756.9C199.3 757.0 200.7 757.2 202.0 757.4C203.3 757.6 204.7 757.8 206.0 757.9C207.3 758.1 208.7 758.3 210.0 758.4C211.3 758.6 212.7 758.7 214.0 758.8C215.3 758.9 216.7 759.0 218.0 759.0C219.3 759.1 220.7 759.2 222.0 759.2C223.3 759.2 224.7 759.2 226.0 759.2C227.3 759.1 228.7 759.1 230.0 759.0C231.3 759.0 232.7 758.9 234.0 758.9C235.3 758.8 236.7 758.8 238.0 758.7C239.3 758.7 240.7 758.7 242.0 758.6C243.3 758.5 244.7 758.5 246.0 758.4C247.3 758.3 248.7 758.2 250.0 758.1C251.3 758.0 252.7 758.0 254.0 757.8C255.3 757.7 256.7 757.4 258.0 757.2C259.3 756.9 260.7 756.5 262.0 756.2C263.3 755.8 264.7 755.5 266.0 755.1C267.3 754.8 268.7 754.4 270.0 754.1C271.3 753.7 272.7 753.4 274.0 753.1C275.3 752.7 276.7 752.4 278.0 752.0C279.3 751.7 280.7 751.4 282.0 751.1C283.3 750.8 284.7 750.5 286.0 750.2C287.3 749.9 288.7 749.6 290.0 749.3C291.3 749.0 292.7 748.7 294.0 748.4C295.3 748.1 296.7 747.8 298.0 747.6C299.3 747.3 300.7 747.1 302.0 747.0C303.3 746.8 304.7 746.7 306.0 746.6C307.3 746.5 308.7 746.4 310.0 746.3C311.3 746.2 312.7 746.1 314.0 745.9C315.3 745.8 316.7 745.7 318.0 745.5C319.3 745.4 320.7 745.2 322.0 745.1C323.3 744.9 324.7 744.8 326.0 744.6C327.3 744.5 328.7 744.3 330.0 744.2C331.3 744.1 332.7 743.9 334.0 743.8C335.3 743.6 336.7 743.5 338.0 743.3C339.3 743.2 340.7 743.1 342.0 743.0C343.3 742.8 344.7 742.7 346.0 742.6C347.3 742.4 348.7 742.3 350.0 742.1C351.3 741.9 352.7 741.6 354.0 741.3C355.3 741.1 356.7 740.7 358.0 740.5C359.3 740.3 360.7 740.0 362.0 739.9C363.3 739.8 364.7 739.9 366.0 739.9C367.3 739.9 368.7 740.0 370.0 740.0C371.3 740.1 372.7 740.2 374.0 740.2C375.3 740.3 376.7 740.4 378.0 740.5C379.3 740.6 380.7 740.6 382.0 740.7C383.3 740.8 384.7 740.9 386.0 741.1C387.3 741.3 388.7 741.5 390.0 741.7C391.3 741.9 392.7 742.1 394.0 742.3C395.3 742.5 396.7 742.7 398.0 743.0C399.3 743.2 400.7 743.4 402.0 743.6C403.3 743.8 404.7 744.1 406.0 744.3C407.3 744.5 408.7 744.7 410.0 744.9C411.3 745.1 412.7 745.3 414.0 745.4C415.3 745.6 416.7 745.8 418.0 746.0C419.3 746.2 420.7 746.4 422.0 746.5C423.3 746.7 424.7 746.9 426.0 747.1C427.3 747.3 428.7 747.5 430.0 747.6C431.3 747.7 432.7 747.8 434.0 747.9C435.3 747.9 436.7 747.9 438.0 747.9C439.3 747.9 440.7 747.9 442.0 747.9C443.3 747.8 444.7 747.7 446.0 747.6C447.3 747.5 448.7 747.4 450.0 747.2C451.3 747.1 452.7 747.0 454.0 746.8C455.3 746.7 456.7 746.5 458.0 746.3C459.3 746.1 460.7 745.9 462.0 745.7C463.3 745.5 464.7 745.3 466.0 745.1C467.3 745.0 468.7 744.9 470.0 744.7C471.3 744.6 472.7 744.5 474.0 744.4C475.3 744.3 476.7 744.2 478.0 744.1C479.3 744.0 480.7 744.0 482.0 743.9C483.3 743.8 484.7 743.8 486.0 743.7C487.3 743.6 488.7 743.6 490.0 743.5C491.3 743.4 492.7 743.3 494.0 743.2C495.3 743.1 496.7 742.9 498.0 742.8C499.3 742.7 500.7 742.6 502.0 742.6C503.3 742.5 504.7 742.5 506.0 742.5C507.3 742.5 508.7 742.5 510.0 742.5C511.3 742.5 512.7 742.5 514.0 742.6C515.3 742.7 516.7 742.9 518.0 743.1C519.3 743.3 520.7 743.5 522.0 743.7C523.3 744.0 524.7 744.2 526.0 744.5C527.3 744.8 528.7 745.3 530.0 745.7C531.3 746.1 532.7 746.6 534.0 746.9C535.3 747.3 536.7 747.7 538.0 748.0C539.3 748.3 540.7 748.5 542.0 748.7C543.3 748.9 544.7 749.1 546.0 749.3C547.3 749.5 548.7 749.6 550.0 749.7C551.3 749.8 552.7 749.7 554.0 749.7C555.3 749.6 556.7 749.6 558.0 749.5C559.3 749.4 560.7 749.3 562.0 749.1C563.3 749.0 564.7 748.7 566.0 748.5C567.3 748.3 568.7 748.0 570.0 747.9C571.3 747.7 572.7 747.5 574.0 747.4C575.3 747.3 576.7 747.2 578.0 747.1C579.3 747.1 580.7 747.0 582.0 746.9C583.3 746.7 584.7 746.6 586.0 746.3C587.3 746.1 588.7 745.8 590.0 745.5C591.3 745.2 592.7 744.9 594.0 744.7C595.3 744.5 596.7 744.4 598.0 744.3C599.3 744.1 600.7 744.0 602.0 743.8C603.3 743.6 604.7 743.4 606.0 743.2C607.3 743.0 608.7 742.8 610.0 742.6C611.3 742.4 612.7 742.2 614.0 742.0C615.3 741.8 616.7 741.7 618.0 741.4C619.3 741.2 620.7 740.9 622.0 740.5C623.3 740.2 624.7 739.8 626.0 739.5C627.3 739.1 628.7 738.7 630.0 738.4C631.3 738.0 632.7 737.7 634.0 737.3C635.3 736.9 636.7 736.6 638.0 736.2C639.3 735.9 640.7 735.5 642.0 735.1C643.3 734.8 644.7 734.4 646.0 734.1C647.3 733.7 648.7 733.3 650.0 733.0C651.3 732.6 652.7 732.3 654.0 731.9C655.3 731.5 656.7 731.1 658.0 730.7C659.3 730.2 660.7 729.8 662.0 729.4C663.3 729.0 664.7 728.6 666.0 728.2C667.3 727.7 668.7 727.3 670.0 726.9C671.3 726.5 672.7 726.1 674.0 725.7C675.3 725.3 676.7 725.0 678.0 724.7C679.3 724.5 680.7 724.4 682.0 724.2C683.3 724.0 684.7 723.9 686.0 723.7C687.3 723.6 688.7 723.5 690.0 723.4C691.3 723.3 692.7 723.3 694.0 723.3C695.3 723.3 696.7 723.2 698.0 723.2C699.3 723.2 700.7 723.2 702.0 723.1C703.3 723.1 704.7 723.1 706.0 723.0C707.3 723.0 708.7 723.0 710.0 723.0C711.3 723.0 712.7 723.0 714.0 723.1C715.3 723.2 716.7 723.4 718.0 723.5C719.3 723.6 720.7 723.8 722.0 723.9C723.3 724.0 724.7 724.0 726.0 724.0C727.3 724.0 728.7 723.8 730.0 723.7C731.3 723.6 732.7 723.5 734.0 723.3C735.3 723.2 736.7 722.9 738.0 722.7C739.3 722.5 740.7 722.1 742.0 721.9C743.3 721.6 744.7 721.3 746.0 721.1C747.3 720.8 748.7 720.7 750.0 720.5C751.3 720.4 752.7 720.3 754.0 720.1C755.3 720.0 756.7 719.9 758.0 719.7C759.3 719.5 760.7 719.3 762.0 719.0C763.3 718.7 764.7 718.4 766.0 718.1C767.3 717.8 768.7 717.5 770.0 717.3C771.3 717.1 772.7 717.0 774.0 716.9C775.3 716.8 776.7 716.7 778.0 716.6C779.3 716.5 780.7 716.4 782.0 716.2C783.3 716.0 784.7 715.7 786.0 715.4C787.3 715.1 788.7 714.8 790.0 714.5C791.3 714.1 792.7 713.8 794.0 713.5C795.3 713.1 796.7 712.7 798.0 712.3C799.3 711.9 800.7 711.5 802.0 711.1C803.3 710.6 804.7 710.2 806.0 709.8C807.3 709.5 808.7 709.1 810.0 708.8C811.3 708.4 812.7 708.1 814.0 707.8C815.3 707.5 816.7 707.2 818.0 707.0C819.3 706.8 820.7 706.8 822.0 706.7C823.3 706.7 824.7 706.6 826.0 706.6C827.3 706.6 828.7 706.7 830.0 706.9C831.3 707.1 832.7 707.5 834.0 707.9C835.3 708.2 836.7 708.5 838.0 709.0C839.3 709.4 840.7 709.9 842.0 710.5C843.3 711.2 844.7 712.1 846.0 713.0C847.3 713.8 848.7 714.7 850.0 715.5C851.3 716.3 852.7 717.0 854.0 717.5C855.3 718.1 856.7 718.4 858.0 718.8C859.3 719.3 860.7 719.6 862.0 720.1C863.3 720.5 864.7 720.9 866.0 721.3C867.3 721.8 868.7 722.2 870.0 722.7C871.3 723.1 872.7 723.6 874.0 724.0C875.3 724.4 876.7 724.8 878.0 725.1C879.3 725.4 880.7 725.6 882.0 725.9C883.3 726.2 884.7 726.4 886.0 726.6C887.3 726.9 888.7 727.0 890.0 727.2C891.3 727.3 892.7 727.4 894.0 727.6C895.3 727.7 896.7 727.8 898.0 727.9C899.3 728.1 900.7 728.4 902.0 728.6C903.3 728.9 904.7 729.3 906.0 729.6C907.3 729.9 908.7 730.3 910.0 730.6C911.3 731.0 912.7 731.3 914.0 731.6C915.3 732.0 916.7 732.3 918.0 732.6C919.3 733.0 920.7 733.3 922.0 733.6C923.3 734.0 924.7 734.3 926.0 734.7C927.3 735.0 928.7 735.3 930.0 735.7C931.3 736.0 932.7 736.3 934.0 736.7C935.3 737.1 936.7 737.5 938.0 737.9C939.3 738.3 940.7 738.8 942.0 739.2C943.3 739.6 944.7 740.1 946.0 740.5C947.3 740.9 948.7 741.3 950.0 741.8C951.3 742.2 952.7 742.6 954.0 743.1C955.3 743.5 956.7 743.9 958.0 744.3C959.3 744.8 960.7 745.2 962.0 745.6C963.3 746.1 964.7 746.5 966.0 746.9C967.3 747.4 968.7 747.8 970.0 748.3C971.3 748.7 972.7 749.3 974.0 749.8C975.3 750.3 976.7 750.8 978.0 751.3C979.3 751.8 980.7 752.4 982.0 752.9C983.3 753.4 984.7 753.9 986.0 754.4C987.3 755.0 988.7 755.5 990.0 756.0C991.3 756.5 992.7 757.1 994.0 757.6C995.3 758.1 996.7 758.6 998.0 759.1C999.3 759.7 1000.7 760.2 1002.0 760.7C1003.3 761.2 1004.7 761.7 1006.0 762.2C1007.3 762.7 1008.7 763.2 1010.0 763.7C1011.3 764.2 1012.7 764.7 1014.0 765.2C1015.3 765.7 1016.7 766.2 1018.0 766.6C1019.3 767.1 1020.7 767.6 1022.0 768.1C1023.3 768.6 1024.7 769.0 1026.0 769.6C1027.3 770.1 1028.7 770.8 1030.0 771.4C1031.3 772.1 1032.7 772.9 1034.0 773.6C1035.3 774.3 1036.7 775.0 1038.0 775.8C1039.3 776.5 1040.7 777.2 1042.0 777.9C1043.3 778.7 1044.7 779.4 1046.0 780.1C1047.3 780.8 1048.7 781.6 1050.0 782.3C1051.3 783.0 1052.7 783.6 1054.0 784.2C1055.3 784.8 1056.7 785.3 1058.0 785.9C1059.3 786.4 1060.7 787.1 1062.0 787.5C1063.3 787.9 1064.7 788.2 1066.0 788.4C1067.3 788.6 1068.7 788.6 1070.0 788.7C1071.3 788.8 1072.7 788.9 1074.0 789.0C1075.3 789.0 1076.7 789.0 1078.0 789.0C1079.3 788.9 1080.7 788.8 1082.0 788.8C1083.3 788.7 1084.7 788.7 1086.0 788.6C1087.3 788.5 1088.7 788.5 1090.0 788.4C1091.3 788.3 1092.7 788.3 1094.0 788.2C1095.3 788.1 1096.7 788.1 1098.0 788.0C1099.3 787.9 1100.7 787.8 1102.0 787.7C1103.3 787.6 1104.7 787.5 1106.0 787.4C1107.3 787.3 1108.7 787.2 1110.0 787.1C1111.3 787.0 1112.7 786.9 1114.0 786.8C1115.3 786.7 1116.7 786.6 1118.0 786.5C1119.3 786.4 1120.7 786.3 1122.0 786.1C1123.3 785.9 1124.7 785.6 1126.0 785.4C1127.3 785.1 1128.7 784.8 1130.0 784.5C1131.3 784.2 1132.7 783.9 1134.0 783.7C1135.3 783.4 1136.7 783.1 1138.0 782.8C1139.3 782.5 1140.7 782.2 1142.0 782.0C1143.3 781.7 1144.7 781.4 1146.0 781.1C1147.3 780.8 1148.7 780.5 1150.0 780.2C1151.3 779.9 1152.7 779.6 1154.0 779.3C1155.3 779.0 1156.7 778.7 1158.0 778.4C1159.3 778.1 1160.7 777.8 1162.0 777.5C1163.3 777.2 1165.0 776.8 1166.0 776.6C1167.0 776.3 1167.7 776.2 1168.0 776.1" fill="none" stroke="#2962ff" stroke-width="1.3" stroke-linejoin="round"/></g><g clip-path="url(#cm)"><path d="M841 55.5H1759" stroke="#5b9cf6" stroke-width="1" stroke-dasharray="5 6" fill="none"/><path d="M841 173.5H1759" stroke="#ff0000" stroke-width="1" stroke-dasharray="5 6" fill="none"/><path d="M841 246.5H1759" stroke="#3bc48f" stroke-width="1" stroke-dasharray="5 6" fill="none"/><path d="M841 305.5H1759" stroke="#5d1f3f" stroke-width="1" stroke-dasharray="5 6" fill="none"/><path d="M841 437.5H1759" stroke="#ff0000" stroke-width="1" stroke-dasharray="5 6" fill="none"/><path d="M841 555.5H1759" stroke="#787b86" stroke-width="1" stroke-dasharray="5 6" fill="none"/><path d="M842 55.4L1063.4 555.4" stroke="#787b86" stroke-width="1" stroke-dasharray="5 6" fill="none"/><path d="M10.5 150.9C11.2 151.1 13.2 151.5 14.5 151.8C15.8 152.1 17.2 152.5 18.5 152.8C19.8 153.2 21.2 153.5 22.5 153.9C23.8 154.3 25.2 154.7 26.5 155.1C27.8 155.6 29.2 156.0 30.5 156.5C31.8 157.0 33.2 157.5 34.5 158.0C35.8 158.5 37.2 159.0 38.5 159.6C39.8 160.1 41.2 160.7 42.5 161.2C43.8 161.8 45.2 162.3 46.5 162.9C47.8 163.5 49.2 164.0 50.5 164.6C51.8 165.1 53.2 165.7 54.5 166.2C55.8 166.7 57.2 167.2 58.5 167.7C59.8 168.2 61.2 168.7 62.5 169.2C63.8 169.6 65.2 170.1 66.5 170.5C67.8 171.0 69.2 171.4 70.5 171.8C71.8 172.3 73.2 172.7 74.5 173.1C75.8 173.5 77.2 173.9 78.5 174.3C79.8 174.8 81.2 175.2 82.5 175.6C83.8 176.0 85.2 176.3 86.5 176.7C87.8 177.1 89.2 177.5 90.5 177.9C91.8 178.3 93.2 178.7 94.5 179.1C95.8 179.6 97.2 180.0 98.5 180.4C99.8 180.9 101.2 181.3 102.5 181.8C103.8 182.2 105.2 182.6 106.5 183.1C107.8 183.6 109.2 184.0 110.5 184.5C111.8 184.9 113.2 185.4 114.5 185.9C115.8 186.4 117.2 186.8 118.5 187.3C119.8 187.8 121.2 188.3 122.5 188.8C123.8 189.3 125.2 189.9 126.5 190.4C127.8 190.9 129.2 191.4 130.5 191.9C131.8 192.4 133.2 192.9 134.5 193.4C135.8 193.9 137.2 194.4 138.5 194.8C139.8 195.3 141.2 195.7 142.5 196.2C143.8 196.6 145.2 197.0 146.5 197.4C147.8 197.8 149.2 198.2 150.5 198.6C151.8 199.0 153.2 199.4 154.5 199.7C155.8 200.1 157.2 200.5 158.5 200.9C159.8 201.3 161.2 201.7 162.5 202.1C163.8 202.6 165.2 203.0 166.5 203.4C167.8 203.9 169.2 204.3 170.5 204.8C171.8 205.2 173.2 205.7 174.5 206.1C175.8 206.6 177.2 207.1 178.5 207.5C179.8 208.0 181.2 208.5 182.5 208.9C183.8 209.4 185.2 209.9 186.5 210.3C187.8 210.8 189.2 211.2 190.5 211.7C191.8 212.2 193.2 212.7 194.5 213.1C195.8 213.6 197.2 214.1 198.5 214.6C199.8 215.1 201.2 215.6 202.5 216.1C203.8 216.7 205.2 217.2 206.5 217.8C207.8 218.3 209.2 218.9 210.5 219.4C211.8 219.9 213.2 220.5 214.5 221.0C215.8 221.5 217.2 222.0 218.5 222.5C219.8 223.0 221.2 223.5 222.5 223.9C223.8 224.4 225.2 224.8 226.5 225.2C227.8 225.6 229.2 226.0 230.5 226.4C231.8 226.8 233.2 227.2 234.5 227.6C235.8 228.0 237.2 228.3 238.5 228.8C239.8 229.2 241.2 229.6 242.5 230.0C243.8 230.4 245.2 230.8 246.5 231.2C247.8 231.6 249.2 232.0 250.5 232.4C251.8 232.8 253.2 233.2 254.5 233.5C255.8 233.9 257.2 234.3 258.5 234.7C259.8 235.0 261.2 235.4 262.5 235.7C263.8 236.1 265.2 236.4 266.5 236.8C267.8 237.1 269.2 237.5 270.5 237.8C271.8 238.2 273.2 238.5 274.5 238.9C275.8 239.3 277.2 239.6 278.5 240.0C279.8 240.4 281.2 240.8 282.5 241.2C283.8 241.6 285.2 242.0 286.5 242.5C287.8 242.9 289.2 243.3 290.5 243.7C291.8 244.2 293.2 244.6 294.5 245.1C295.8 245.5 297.2 245.9 298.5 246.4C299.8 246.8 301.2 247.3 302.5 247.8C303.8 248.2 305.2 248.7 306.5 249.2C307.8 249.6 309.2 250.1 310.5 250.6C311.8 251.1 313.2 251.6 314.5 252.1C315.8 252.6 317.2 253.1 318.5 253.6C319.8 254.1 321.2 254.6 322.5 255.1C323.8 255.5 325.2 256.0 326.5 256.5C327.8 257.0 329.2 257.5 330.5 258.0C331.8 258.4 333.2 258.9 334.5 259.3C335.8 259.7 337.2 260.2 338.5 260.6C339.8 261.0 341.2 261.3 342.5 261.7C343.8 262.1 345.2 262.4 346.5 262.8C347.8 263.1 349.2 263.5 350.5 263.8C351.8 264.1 353.2 264.4 354.5 264.7C355.8 265.1 357.2 265.4 358.5 265.7C359.8 266.1 361.2 266.4 362.5 266.9C363.8 267.3 365.2 267.7 366.5 268.2C367.8 268.7 369.2 269.3 370.5 269.8C371.8 270.3 373.2 270.9 374.5 271.4C375.8 271.9 377.2 272.4 378.5 272.9C379.8 273.4 381.2 273.9 382.5 274.3C383.8 274.8 385.2 275.2 386.5 275.7C387.8 276.1 389.2 276.5 390.5 277.0C391.8 277.4 393.2 277.9 394.5 278.3C395.8 278.8 397.2 279.2 398.5 279.7C399.8 280.1 401.2 280.6 402.5 281.0C403.8 281.5 405.2 282.0 406.5 282.4C407.8 282.9 409.2 283.4 410.5 283.8C411.8 284.3 413.2 284.8 414.5 285.3C415.8 285.7 417.2 286.2 418.5 286.7C419.8 287.2 421.2 287.6 422.5 288.1C423.8 288.6 425.2 289.1 426.5 289.5C427.8 290.0 429.2 290.5 430.5 291.0C431.8 291.4 433.2 291.9 434.5 292.4C435.8 292.8 437.2 293.3 438.5 293.8C439.8 294.2 441.2 294.7 442.5 295.1C443.8 295.5 445.2 296.0 446.5 296.4C447.8 296.8 449.2 297.2 450.5 297.6C451.8 298.0 453.2 298.4 454.5 298.7C455.8 299.1 457.2 299.5 458.5 299.9C459.8 300.3 461.2 300.7 462.5 301.0C463.8 301.4 465.2 301.8 466.5 302.2C467.8 302.6 469.2 302.9 470.5 303.3C471.8 303.7 473.2 304.1 474.5 304.4C475.8 304.8 477.2 305.2 478.5 305.5C479.8 305.9 481.2 306.3 482.5 306.7C483.8 307.0 485.2 307.4 486.5 307.8C487.8 308.2 489.2 308.6 490.5 309.0C491.8 309.4 493.2 309.9 494.5 310.3C495.8 310.7 497.2 311.2 498.5 311.6C499.8 312.1 501.2 312.5 502.5 313.0C503.8 313.4 505.2 313.9 506.5 314.3C507.8 314.8 509.2 315.2 510.5 315.7C511.8 316.1 513.2 316.6 514.5 317.0C515.8 317.5 517.2 317.9 518.5 318.4C519.8 318.8 521.2 319.3 522.5 319.7C523.8 320.1 525.2 320.6 526.5 321.0C527.8 321.5 529.2 321.9 530.5 322.3C531.8 322.8 533.2 323.2 534.5 323.6C535.8 324.0 537.2 324.4 538.5 324.8C539.8 325.2 541.2 325.6 542.5 326.0C543.8 326.4 545.2 326.8 546.5 327.2C547.8 327.6 549.2 327.9 550.5 328.3C551.8 328.7 553.2 329.1 554.5 329.5C555.8 329.9 557.2 330.2 558.5 330.6C559.8 331.0 561.2 331.4 562.5 331.9C563.8 332.3 565.2 332.7 566.5 333.1C567.8 333.5 569.2 333.9 570.5 334.4C571.8 334.8 573.2 335.2 574.5 335.6C575.8 336.0 577.2 336.5 578.5 336.8C579.8 337.2 581.2 337.6 582.5 337.9C583.8 338.3 585.2 338.6 586.5 338.9C587.8 339.2 589.2 339.4 590.5 339.7C591.8 339.9 593.2 340.2 594.5 340.4C595.8 340.6 597.2 340.8 598.5 341.1C599.8 341.3 601.2 341.5 602.5 341.7C603.8 342.0 605.2 342.2 606.5 342.4C607.8 342.6 609.2 342.8 610.5 343.1C611.8 343.3 613.2 343.5 614.5 343.8C615.8 344.0 617.2 344.2 618.5 344.5C619.8 344.7 621.2 344.9 622.5 345.2C623.8 345.4 625.2 345.7 626.5 345.9C627.8 346.2 629.2 346.4 630.5 346.7C631.8 346.9 633.2 347.1 634.5 347.4C635.8 347.6 637.2 347.8 638.5 348.1C639.8 348.3 641.2 348.5 642.5 348.7C643.8 349.0 645.2 349.2 646.5 349.4C647.8 349.6 649.2 349.8 650.5 350.0C651.8 350.2 653.2 350.3 654.5 350.5C655.8 350.6 657.2 350.7 658.5 350.8C659.8 350.9 661.2 351.0 662.5 351.1C663.8 351.2 665.2 351.2 666.5 351.3C667.8 351.4 669.2 351.4 670.5 351.5C671.8 351.6 673.2 351.6 674.5 351.7C675.8 351.8 677.2 351.8 678.5 351.9C679.8 352.0 681.2 352.1 682.5 352.1C683.8 352.2 685.2 352.3 686.5 352.4C687.8 352.4 689.2 352.5 690.5 352.6C691.8 352.7 693.2 352.7 694.5 352.8C695.8 352.9 697.2 353.0 698.5 353.1C699.8 353.2 701.2 353.3 702.5 353.4C703.8 353.5 705.2 353.6 706.5 353.7C707.8 353.8 709.2 353.9 710.5 354.0C711.8 354.1 713.2 354.2 714.5 354.3C715.8 354.4 717.2 354.5 718.5 354.6C719.8 354.7 721.2 354.8 722.5 354.9C723.8 355.0 725.2 355.1 726.5 355.2C727.8 355.2 729.2 355.3 730.5 355.3C731.8 355.4 733.2 355.4 734.5 355.4C735.8 355.5 737.2 355.5 738.5 355.5C739.8 355.5 741.2 355.5 742.5 355.4C743.8 355.4 745.2 355.4 746.5 355.4C747.8 355.3 749.2 355.3 750.5 355.2C751.8 355.2 753.2 355.1 754.5 355.1C755.8 355.0 757.2 354.9 758.5 354.8C759.8 354.8 761.2 354.7 762.5 354.6C763.8 354.5 765.2 354.4 766.5 354.3C767.8 354.3 769.2 354.2 770.5 354.1C771.8 354.0 773.2 353.9 774.5 353.9C775.8 353.8 777.2 353.7 778.5 353.7C779.8 353.6 781.2 353.5 782.5 353.5C783.8 353.4 785.2 353.3 786.5 353.3C787.8 353.2 789.2 353.1 790.5 353.0C791.8 353.0 793.2 352.9 794.5 352.8C795.8 352.7 797.2 352.6 798.5 352.4C799.8 352.3 801.2 352.2 802.5 352.1C803.8 351.9 805.2 351.8 806.5 351.6C807.8 351.5 809.2 351.4 810.5 351.2C811.8 351.1 813.2 351.0 814.5 350.9C815.8 350.8 817.2 350.7 818.5 350.6C819.8 350.5 821.2 350.5 822.5 350.4C823.8 350.4 825.2 350.4 826.5 350.3C827.8 350.3 829.2 350.3 830.5 350.3C831.8 350.3 833.2 350.3 834.5 350.3C835.8 350.2 837.2 350.2 838.5 350.2C839.8 350.2 841.2 350.2 842.5 350.2C843.8 350.2 845.2 350.1 846.5 350.1C847.8 350.1 849.2 350.0 850.5 350.0C851.8 349.9 853.2 349.8 854.5 349.8C855.8 349.7 857.2 349.6 858.5 349.5C859.8 349.4 861.2 349.2 862.5 349.1C863.8 349.0 865.2 348.9 866.5 348.8C867.8 348.6 869.2 348.5 870.5 348.4C871.8 348.3 873.2 348.2 874.5 348.0C875.8 347.9 877.2 347.8 878.5 347.6C879.8 347.5 881.2 347.4 882.5 347.3C883.8 347.1 885.2 347.0 886.5 346.8C887.8 346.6 889.2 346.5 890.5 346.3C891.8 346.1 893.2 345.9 894.5 345.7C895.8 345.5 897.2 345.3 898.5 345.0C899.8 344.7 901.2 344.5 902.5 344.2C903.8 343.9 905.2 343.6 906.5 343.2C907.8 342.9 909.2 342.6 910.5 342.2C911.8 341.9 913.2 341.5 914.5 341.2C915.8 340.8 917.2 340.5 918.5 340.2C919.8 339.8 921.2 339.5 922.5 339.1C923.8 338.8 925.2 338.4 926.5 338.1C927.8 337.7 929.2 337.4 930.5 337.1C931.8 336.8 933.2 336.4 934.5 336.1C935.8 335.9 937.2 335.6 938.5 335.3C939.8 335.0 941.2 334.8 942.5 334.5C943.8 334.2 945.2 334.0 946.5 333.8C947.8 333.5 949.2 333.3 950.5 333.0C951.8 332.8 953.2 332.6 954.5 332.3C955.8 332.1 957.2 331.9 958.5 331.7C959.8 331.5 961.2 331.3 962.5 331.2C963.8 331.0 965.2 330.9 966.5 330.7C967.8 330.6 969.2 330.5 970.5 330.4C971.8 330.2 973.2 330.1 974.5 330.0C975.8 329.9 977.2 329.8 978.5 329.7C979.8 329.5 981.2 329.4 982.5 329.3C983.8 329.2 985.2 329.1 986.5 329.0C987.8 328.9 989.2 328.8 990.5 328.7C991.8 328.6 993.2 328.5 994.5 328.4C995.8 328.3 997.2 328.2 998.5 328.1C999.8 328.0 1001.2 327.9 1002.5 327.9C1003.8 327.8 1005.2 327.7 1006.5 327.6C1007.8 327.6 1009.2 327.5 1010.5 327.5C1011.8 327.4 1013.2 327.4 1014.5 327.4C1015.8 327.3 1017.2 327.3 1018.5 327.3C1019.8 327.2 1021.2 327.2 1022.5 327.2C1023.8 327.2 1025.2 327.1 1026.5 327.1C1027.8 327.1 1029.2 327.1 1030.5 327.2C1031.8 327.2 1033.2 327.2 1034.5 327.3C1035.8 327.3 1037.2 327.4 1038.5 327.5C1039.8 327.5 1041.2 327.6 1042.5 327.7C1043.8 327.8 1045.2 327.9 1046.5 328.0C1047.8 328.1 1049.2 328.2 1050.5 328.3C1051.8 328.4 1053.2 328.5 1054.5 328.6C1055.8 328.7 1057.2 328.8 1058.5 328.9C1059.8 329.0 1061.2 329.1 1062.5 329.1C1063.8 329.2 1065.2 329.3 1066.5 329.4C1067.8 329.5 1069.2 329.5 1070.5 329.6C1071.8 329.7 1073.2 329.8 1074.5 329.8C1075.8 329.9 1077.2 330.0 1078.5 330.0C1079.8 330.1 1081.2 330.1 1082.5 330.2C1083.8 330.2 1085.2 330.3 1086.5 330.4C1087.8 330.4 1089.2 330.5 1090.5 330.5C1091.8 330.6 1093.2 330.6 1094.5 330.7C1095.8 330.8 1097.2 330.9 1098.5 331.0C1099.8 331.0 1101.2 331.1 1102.5 331.3C1103.8 331.4 1105.2 331.5 1106.5 331.6C1107.8 331.7 1109.2 331.8 1110.5 331.9C1111.8 332.1 1113.2 332.2 1114.5 332.3C1115.8 332.4 1117.2 332.5 1118.5 332.6C1119.8 332.8 1121.2 332.9 1122.5 333.0C1123.8 333.1 1125.2 333.2 1126.5 333.3C1127.8 333.4 1129.2 333.5 1130.5 333.7C1131.8 333.8 1133.2 333.9 1134.5 334.0C1135.8 334.1 1137.2 334.2 1138.5 334.3C1139.8 334.4 1141.2 334.5 1142.5 334.6C1143.8 334.7 1145.2 334.8 1146.5 334.9C1147.8 335.0 1149.2 335.1 1150.5 335.3C1151.8 335.4 1153.2 335.5 1154.5 335.6C1155.8 335.8 1157.2 335.9 1158.5 336.0C1159.8 336.2 1161.2 336.3 1162.5 336.4C1163.8 336.5 1165.5 336.7 1166.5 336.8C1167.5 336.9 1168.2 337.0 1168.5 337.0" fill="none" stroke="#f23645" stroke-width="1.9" stroke-linejoin="round"/><path d="M11.5 306.8V340.0 M22.5 304.3V340.3 M34.5 335.0V365.0 M46.5 356.0V376.0 M58.5 371.8V386.5 M69.5 370.7V384.4 M81.5 370.7V376.4 M93.5 376.0V393.4 M104.5 393.2V420.4 M116.5 396.3V414.8 M128.5 396.3V416.4 M139.5 399.0V416.4 M151.5 401.1V407.8 M163.5 401.1V428.0 M174.5 401.0V412.7 M186.5 402.0V414.3 M198.5 409.0V435.7 M210.5 418.0V462.4 M221.5 437.8V460.3 M233.5 411.2V463.0 M245.5 407.0V436.4 M256.5 411.2V465.0 M268.5 368.2V420.4 M280.5 363.0V379.7 M291.5 363.8V372.4 M303.5 348.3V377.6 M315.5 346.6V368.6 M326.5 352.9V367.6 M338.5 355.0V363.0 M350.5 355.0V363.8 M362.5 312.0V358.8 M373.5 312.0V366.5 M385.5 366.1V386.0 M397.5 367.0V393.4 M408.5 393.2V418.0 M420.5 394.8V416.4 M432.5 399.0V414.3 M443.5 382.9V414.3 M455.5 350.8V383.3 M467.5 335.7V378.7 M478.5 338.2V356.5 M490.5 350.2V376.6 M502.5 342.0V361.3 M514.5 346.2V361.3 M525.5 361.3V399.5 M537.5 384.0V442.7 M549.5 425.9V452.5 M560.5 379.1V429.0 M572.5 358.2V384.5 M584.5 346.0V374.8 M595.5 335.5V408.2 M607.5 327.9V343.0 M619.5 326.4V343.0 M630.5 283.3V328.5 M642.5 252.0V286.4 M654.5 252.0V271.8 M666.5 205.8V267.3 M677.5 208.2V230.9 M689.5 211.2V232.4 M701.5 211.8V250.6 M712.5 234.0V265.6 M724.5 239.5V258.6 M736.5 219.2V265.6 M747.5 156.5V246.5 M759.5 166.2V198.6 M771.5 153.2V192.0 M782.5 139.0V166.8 M794.5 111.0V159.5 M806.5 58.0V111.0 M818.5 65.3V92.0 M829.5 65.3V101.0 M841.5 55.6V185.9 M853.5 139.0V246.5 M864.5 207.6V300.0 M876.5 193.0V232.4 M888.5 175.8V261.5 M899.5 162.7V189.4 M911.5 166.7V197.6 M923.5 197.6V221.2 M934.5 206.0V244.0 M946.5 244.0V268.8 M958.5 250.9V273.6 M970.5 262.7V307.6 M981.5 298.5V337.9 M993.5 323.3V361.5 M1005.5 335.6V362.3 M1016.5 346.6V387.5 M1028.5 345.0V426.8 M1040.5 415.8V483.4 M1051.5 456.7V543.8 M1063.5 477.1V552.3 M1075.5 463.0V529.5 M1086.5 379.0V463.0 M1098.5 426.0V473.0 M1110.5 426.0V475.0 M1122.5 435.0V478.5 M1133.5 438.0V478.5 M1145.5 426.2V466.0 M1157.5 397.4V437.4 M1168.5 426.7V429.5" stroke="#a8a8a8" stroke-width="1" fill="none"/><g fill="#0000ff" stroke="#1b5e20" stroke-width="1"><rect x="7.5" y="309.5" width="8" height="28"/><rect x="65.5" y="373.5" width="8" height="11"/><rect x="112.5" y="396.5" width="8" height="3"/><rect x="135.5" y="406.5" width="8" height="10"/><rect x="147.5" y="401.5" width="8" height="5"/><rect x="217.5" y="443.5" width="8" height="17"/><rect x="229.5" y="418.5" width="8" height="25"/><rect x="252.5" y="420.5" width="8" height="16"/><rect x="264.5" y="371.5" width="8" height="49"/><rect x="287.5" y="367.5" width="8" height="5"/><rect x="299.5" y="348.5" width="8" height="19"/><rect x="322.5" y="362.5" width="8" height="5"/><rect x="346.5" y="356.5" width="8" height="7"/><rect x="358.5" y="312.5" width="8" height="44"/><rect x="416.5" y="399.5" width="8" height="17"/><rect x="439.5" y="383.5" width="8" height="31"/><rect x="451.5" y="360.5" width="8" height="23"/><rect x="463.5" y="348.5" width="8" height="12"/><rect x="498.5" y="346.5" width="8" height="15"/><rect x="545.5" y="429.5" width="8" height="6"/><rect x="556.5" y="384.5" width="8" height="45"/><rect x="568.5" y="358.5" width="8" height="26"/><rect x="591.5" y="335.5" width="8" height="35"/><rect x="615.5" y="328.5" width="8" height="7"/><rect x="626.5" y="283.5" width="8" height="45"/><rect x="638.5" y="268.5" width="8" height="15"/><rect x="662.5" y="225.5" width="8" height="42"/><rect x="673.5" y="214.5" width="8" height="10"/><rect x="708.5" y="239.5" width="8" height="7"/><rect x="732.5" y="219.5" width="8" height="35"/><rect x="743.5" y="179.5" width="8" height="39"/><rect x="767.5" y="153.5" width="8" height="35"/><rect x="790.5" y="111.5" width="8" height="48"/><rect x="802.5" y="81.5" width="8" height="30"/><rect x="814.5" y="65.5" width="8" height="16"/><rect x="860.5" y="207.5" width="8" height="40"/><rect x="884.5" y="182.5" width="8" height="28"/><rect x="895.5" y="176.5" width="8" height="6"/><rect x="1059.5" y="510.5" width="8" height="24"/><rect x="1071.5" y="463.5" width="8" height="47"/><rect x="1082.5" y="436.5" width="8" height="27"/><rect x="1106.5" y="448.5" width="8" height="17"/><rect x="1129.5" y="444.5" width="8" height="34"/><rect x="1141.5" y="426.5" width="8" height="18"/><rect x="1164.5" y="427.5" width="8" height="2"/></g><g fill="#ff0000" stroke="#4a0a0a" stroke-width="1"><rect x="18.5" y="309.5" width="8" height="26"/><rect x="30.5" y="335.5" width="8" height="29"/><rect x="42.5" y="364.5" width="8" height="10"/><rect x="54.5" y="374.5" width="8" height="10"/><rect x="77.5" y="373.5" width="8" height="3"/><rect x="89.5" y="376.5" width="8" height="17"/><rect x="100.5" y="393.5" width="8" height="6"/><rect x="124.5" y="396.5" width="8" height="20"/><rect x="159.5" y="401.5" width="8" height="3"/><rect x="170.5" y="404.5" width="8" height="2"/><rect x="182.5" y="406.5" width="8" height="8"/><rect x="194.5" y="414.5" width="8" height="12"/><rect x="206.5" y="426.5" width="8" height="34"/><rect x="241.5" y="418.5" width="8" height="18"/><rect x="311.5" y="348.5" width="8" height="19"/><rect x="369.5" y="312.5" width="8" height="54"/><rect x="381.5" y="366.5" width="8" height="2"/><rect x="393.5" y="368.5" width="8" height="25"/><rect x="404.5" y="393.5" width="8" height="23"/><rect x="428.5" y="399.5" width="8" height="15"/><rect x="474.5" y="348.5" width="8" height="8"/><rect x="486.5" y="356.5" width="8" height="5"/><rect x="510.5" y="346.5" width="8" height="15"/><rect x="521.5" y="361.5" width="8" height="25"/><rect x="533.5" y="386.5" width="8" height="49"/><rect x="580.5" y="358.5" width="8" height="12"/><rect x="685.5" y="214.5" width="8" height="18"/><rect x="697.5" y="232.5" width="8" height="14"/><rect x="720.5" y="239.5" width="8" height="15"/><rect x="755.5" y="179.5" width="8" height="9"/><rect x="778.5" y="153.5" width="8" height="6"/><rect x="825.5" y="65.5" width="8" height="24"/><rect x="837.5" y="89.5" width="8" height="74"/><rect x="849.5" y="163.5" width="8" height="83"/><rect x="872.5" y="207.5" width="8" height="3"/><rect x="907.5" y="176.5" width="8" height="21"/><rect x="919.5" y="197.5" width="8" height="21"/><rect x="930.5" y="218.5" width="8" height="26"/><rect x="942.5" y="244.5" width="8" height="6"/><rect x="954.5" y="251.5" width="8" height="18"/><rect x="966.5" y="269.5" width="8" height="38"/><rect x="977.5" y="307.5" width="8" height="16"/><rect x="989.5" y="323.5" width="8" height="30"/><rect x="1001.5" y="353.5" width="8" height="9"/><rect x="1012.5" y="362.5" width="8" height="12"/><rect x="1024.5" y="375.5" width="8" height="49"/><rect x="1036.5" y="424.5" width="8" height="53"/><rect x="1047.5" y="477.5" width="8" height="57"/><rect x="1094.5" y="436.5" width="8" height="29"/><rect x="1118.5" y="448.5" width="8" height="30"/><rect x="1153.5" y="426.5" width="8" height="3"/></g><path d="M650 267.5H659" stroke="#1b5e20" stroke-width="1"/><path d="M276 371.5H285 M334 362.5H343 M603 335.5H612" stroke="#4a0a0a" stroke-width="1"/><path d="M501 56H1759 M477 245H1759 M185 309H1759" stroke="#ff0000" stroke-width="2" fill="none"/><path d="M10 487H1759 M10 554H1759" stroke="#40a843" stroke-width="2" fill="none"/><path d="M10 583.5H1759" stroke="#40a843" stroke-width="1.2" fill="none"/><path d="M1016 345L1204 419 M1051.5 556L1204 473" stroke="#0000ff" stroke-width="3" stroke-linecap="round" fill="none"/><text x="1750.5" y="45.5" fill="#5ba8d6" stroke="#5ba8d6" stroke-width="0.25" font-size="12" text-anchor="end">1 (108,924.6)</text><text x="1750.5" y="165" fill="#e8000b" stroke="#e8000b" stroke-width="0.25" font-size="12" text-anchor="end">0.764 (107,620.8)</text><text x="1750.5" y="238.8" fill="#2fbf8a" stroke="#2fbf8a" stroke-width="0.25" font-size="12" text-anchor="end">0.618 (106,814.2)</text><text x="1750.5" y="297" fill="#5d1f3f" stroke="#5d1f3f" stroke-width="0.25" font-size="12" text-anchor="end">0.5 (106,162.3)</text><text x="1750.5" y="428.5" fill="#e8000b" stroke="#e8000b" stroke-width="0.25" font-size="12" text-anchor="end">0.236 (104,703.8)</text><text x="1750.5" y="547" fill="#8a8d96" stroke="#8a8d96" stroke-width="0.25" font-size="12" text-anchor="end">0 (103,400.0)</text><g transform="translate(1168.7 571.4)"><rect x="-17" y="-11" width="28" height="22" fill="#fff"/><path d="M-9.3 -2.8A9.8 9.8 0 1 1 -7.7 6.5" fill="none" stroke="#9c27b0" stroke-width="1.5"/><path d="M3.0 -5.8L-4.8 0.9H-0.2L-3.0 5.8L4.8 -0.9H0.2Z" fill="#9c27b0"/><path d="M-10.7 -1.1999999999999997Q-9.799999999999999 2.7 -5.8999999999999995 3.6Q-9.799999999999999 4.5 -10.7 8.4Q-11.6 4.5 -15.5 3.6Q-11.6 2.7 -10.7 -1.1999999999999997Z" fill="#7c4dff"/></g></g><path d="M1759.5 27V823" stroke="#4f4f4f" stroke-width="1"/><path d="M10 795.5H1825" stroke="#4f4f4f" stroke-width="1"/><text x="1816.5" y="69.5" fill="#333333" font-size="11" text-anchor="end">108,800.0</text><text x="1816.5" y="105.5" fill="#333333" font-size="11" text-anchor="end">108,400.0</text><text x="1816.5" y="142.5" fill="#333333" font-size="11" text-anchor="end">108,000.0</text><text x="1816.5" y="178.5" fill="#333333" font-size="11" text-anchor="end">107,600.0</text><text x="1816.5" y="214.5" fill="#333333" font-size="11" text-anchor="end">107,200.0</text><text x="1816.5" y="286.5" fill="#333333" font-size="11" text-anchor="end">106,400.0</text><text x="1816.5" y="323.5" fill="#333333" font-size="11" text-anchor="end">106,000.0</text><text x="1816.5" y="359.5" fill="#333333" font-size="11" text-anchor="end">105,600.0</text><text x="1816.5" y="395.5" fill="#333333" font-size="11" text-anchor="end">105,200.0</text><text x="1816.5" y="467.5" fill="#333333" font-size="11" text-anchor="end">104,400.0</text><text x="1816.5" y="504.5" fill="#333333" font-size="11" text-anchor="end">104,000.0</text><text x="1816.5" y="540.5" fill="#333333" font-size="11" text-anchor="end">103,600.0</text><text x="1768" y="592.8" fill="#333333" font-size="11">80.00</text><text x="1768" y="627.7" fill="#333333" font-size="11">60.00</text><text x="1768" y="662.6" fill="#333333" font-size="11">40.00</text><text x="1768" y="697.5" fill="#333333" font-size="11">20.00</text><text x="1768" y="751" fill="#333333" font-size="11">0.0</text><rect x="1763" y="31" width="57.5" height="26" rx="5" fill="#fff" stroke="#e8e8e8" stroke-width="1"/><text x="1772.3" y="48.7" fill="#131722" font-size="12" textLength="20.5" lengthAdjust="spacingAndGlyphs">USD</text><path d="M1760 61H1819A2 2 0 0 1 1821 63V65H1760Z" fill="#ff0000"/><path d="M1760 237H1819A2 2 0 0 1 1821 239V252A2 2 0 0 1 1819 254H1760Z" fill="#ff0000"/><text x="1816.5" y="249" fill="#fff" font-size="11.5" font-weight="bold" text-anchor="end" textLength="48" lengthAdjust="spacingAndGlyphs">106,824.9</text><path d="M1760 301H1819A2 2 0 0 1 1821 303V316A2 2 0 0 1 1819 318H1760Z" fill="#ff0000"/><text x="1816.5" y="313" fill="#fff" font-size="11.5" font-weight="bold" text-anchor="end" textLength="48" lengthAdjust="spacingAndGlyphs">106,118.1</text><path d="M1760 418H1819A2 2 0 0 1 1821 420V446A2 2 0 0 1 1819 448H1760Z" fill="#0000ff"/><text x="1816.5" y="430" fill="#fff" font-size="11.5" font-weight="bold" text-anchor="end" textLength="48" lengthAdjust="spacingAndGlyphs">104,824.3</text><text x="1768.3" y="443" fill="#d5dcff" font-size="11.5" font-weight="bold" textLength="26.4" lengthAdjust="spacingAndGlyphs">50:48</text><path d="M1760 479H1819A2 2 0 0 1 1821 481V494A2 2 0 0 1 1819 496H1760Z" fill="#4caf50"/><text x="1816.5" y="491" fill="#fff" font-size="11.5" font-weight="bold" text-anchor="end" textLength="48" lengthAdjust="spacingAndGlyphs">104,152.6</text><path d="M1760 546H1819A2 2 0 0 1 1821 548V561A2 2 0 0 1 1819 563H1760Z" fill="#4caf50"/><text x="1816.5" y="558.5" fill="#fff" font-size="11.5" font-weight="bold" text-anchor="end" textLength="48" lengthAdjust="spacingAndGlyphs">103,412.7</text><path d="M1760 568H1819A2 2 0 0 1 1821 570V582A2 2 0 0 1 1819 584H1760Z" fill="#4caf50"/><text x="1816.5" y="580" fill="#fff" font-size="11.5" font-weight="bold" text-anchor="end" textLength="48" lengthAdjust="spacingAndGlyphs">103,078.0</text><text x="22.5" y="812" fill="#333333" font-size="11" text-anchor="middle">14</text><text x="93.5" y="812" fill="#333333" font-size="11" text-anchor="middle">06:00</text><text x="163.5" y="812" fill="#333333" font-size="11" text-anchor="middle">12:00</text><text x="233.5" y="812" fill="#333333" font-size="11" text-anchor="middle">18:00</text><text x="303.5" y="812" fill="#333333" font-size="11" text-anchor="middle">15</text><text x="373.5" y="812" fill="#333333" font-size="11" text-anchor="middle">06:00</text><text x="443.5" y="812" fill="#333333" font-size="11" text-anchor="middle">12:00</text><text x="514.5" y="812" fill="#333333" font-size="11" text-anchor="middle">18:00</text><text x="584.5" y="812" fill="#333333" font-size="11" text-anchor="middle" font-weight="bold">16</text><text x="654.5" y="812" fill="#333333" font-size="11" text-anchor="middle">06:00</text><text x="724.5" y="812" fill="#333333" font-size="11" text-anchor="middle">12:00</text><text x="794.5" y="812" fill="#333333" font-size="11" text-anchor="middle">18:00</text><text x="864.5" y="812" fill="#333333" font-size="11" text-anchor="middle">17</text><text x="934.5" y="812" fill="#333333" font-size="11" text-anchor="middle">06:00</text><text x="1005.5" y="812" fill="#333333" font-size="11" text-anchor="middle">12:00</text><text x="1075.5" y="812" fill="#333333" font-size="11" text-anchor="middle">18:00</text><text x="1145.5" y="812" fill="#333333" font-size="11" text-anchor="middle">18</text><text x="1215.5" y="812" fill="#333333" font-size="11" text-anchor="middle">06:00</text><text x="1285.5" y="812" fill="#333333" font-size="11" text-anchor="middle">12:00</text><text x="1355.5" y="812" fill="#333333" font-size="11" text-anchor="middle">18:00</text><text x="1426.5" y="812" fill="#333333" font-size="11" text-anchor="middle">19</text><text x="1496.5" y="812" fill="#333333" font-size="11" text-anchor="middle">06:00</text><text x="1566.5" y="812" fill="#333333" font-size="11" text-anchor="middle">12:00</text><text x="1636.5" y="812" fill="#333333" font-size="11" text-anchor="middle">18:00</text><text x="1706.5" y="812" fill="#333333" font-size="11" text-anchor="middle">20</text><text x="10" y="18.5" font-size="12" fill="#131722" textLength="367" lengthAdjust="spacingAndGlyphs">aayushjindal published on TradingView.com, Jun 18, 2025 02:09 UTC</text><text x="18.3" y="45.8" font-size="12" fill="#3d3d3d" textLength="185.5" lengthAdjust="spacingAndGlyphs">Bitcoin / U.S. Dollar · 1h · KRAKEN</text><text x="212.5" y="45.8" font-size="12" fill="#3d3d3d" textLength="60" lengthAdjust="spacingAndGlyphs">O<tspan fill="#1e5d36">104,790.9</tspan></text><text x="280.5" y="45.8" font-size="12" fill="#3d3d3d" textLength="59.5" lengthAdjust="spacingAndGlyphs">H<tspan fill="#1e5d36">104,824.4</tspan></text><text x="348.2" y="45.8" font-size="12" fill="#3d3d3d" textLength="58.4" lengthAdjust="spacingAndGlyphs">L<tspan fill="#1e5d36">104,790.8</tspan></text><text x="414.7" y="45.8" font-size="12" fill="#3d3d3d" textLength="58.9" lengthAdjust="spacingAndGlyphs">C<tspan fill="#1e5d36">104,824.3</tspan></text><text x="482.3" y="45.8" font-size="12" fill="#1e5d36" textLength="28.3" lengthAdjust="spacingAndGlyphs">+36.7</text><text x="515.4" y="45.8" font-size="12" fill="#1e5d36" textLength="44.3" lengthAdjust="spacingAndGlyphs">(+0.04%)</text><text x="18" y="62.8" font-size="12" fill="#3d3d3d" textLength="152" lengthAdjust="spacingAndGlyphs">MA (100, close, 0, SMA, 100)</text><text x="178.7" y="62.8" font-size="12" fill="#f23645" textLength="51.9" lengthAdjust="spacingAndGlyphs">105,807.6</text><text x="18.3" y="603.2" font-size="12" fill="#3d3d3d" textLength="139.9" lengthAdjust="spacingAndGlyphs">RSI (14, close, SMA, 14, 2)</text><text x="165.9" y="603.2" font-size="12" fill="#9c27b0" textLength="29.5" lengthAdjust="spacingAndGlyphs">42.86</text><text x="202.7" y="603.2" font-size="12" fill="#fdd835" textLength="29.4" lengthAdjust="spacingAndGlyphs">33.49</text><text x="240.6" y="603.2" font-size="12" fill="#3d3d3d" textLength="7.1" lengthAdjust="spacingAndGlyphs">Ø</text><text x="255.4" y="603.2" font-size="12" fill="#3d3d3d" textLength="7" lengthAdjust="spacingAndGlyphs">Ø</text><text x="18" y="720.5" font-size="12" fill="#3d3d3d" textLength="184.7" lengthAdjust="spacingAndGlyphs">MACD (12, 26, close, 9, EMA, EMA)</text><text x="211" y="720.5" font-size="12" fill="#26a69a" textLength="22.8" lengthAdjust="spacingAndGlyphs">73.9</text><text x="241.3" y="720.5" font-size="12" fill="#2962ff" textLength="35" lengthAdjust="spacingAndGlyphs">−524.3</text><text x="285" y="720.5" font-size="12" fill="#ff6d00" textLength="34.5" lengthAdjust="spacingAndGlyphs">−598.1</text><g transform="translate(10 835)" fill="#131722"><path d="M0 0.2H7.6V9.9H3.6V4.2H0Z"/><circle cx="11.3" cy="2" r="1.9"/><path d="M13.9 0.2H19.7L16.2 9.9H11.3Z"/></g><text x="33" y="844.5" fill="#131722" font-size="13" textLength="70" lengthAdjust="spacingAndGlyphs">TradingView</text></svg></body></html>
